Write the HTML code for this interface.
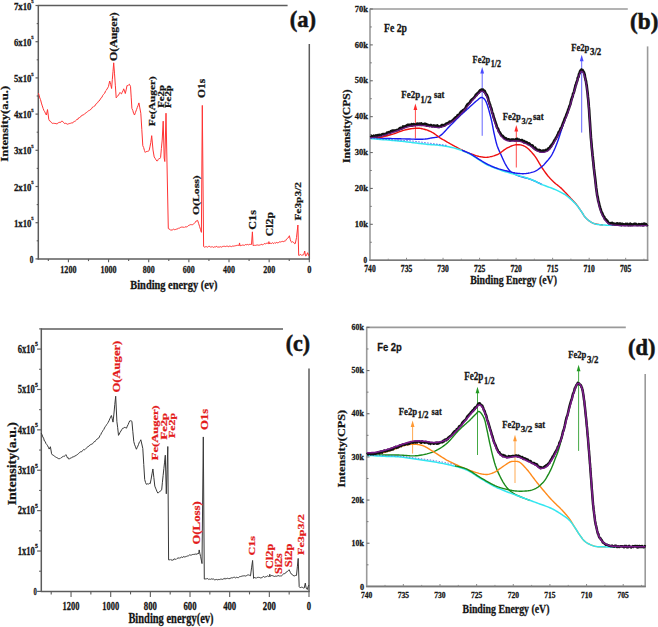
<!DOCTYPE html>
<html><head><meta charset="utf-8"><title>XPS spectra</title>
<style>
html,body{margin:0;padding:0;background:#fff;}
body{width:658px;height:627px;overflow:hidden;}
svg{display:block;}
</style></head>
<body>
<svg width="658" height="627" viewBox="0 0 658 627">
<rect width="658" height="627" fill="#fff"/>
<line x1="38.3" y1="4.9" x2="38.3" y2="259.5" stroke="#5c5c5c" stroke-width="1.5"/>
<line x1="37.7" y1="258.9" x2="309.9" y2="258.9" stroke="#5c5c5c" stroke-width="1.5"/>
<line x1="38.3" y1="5.5" x2="287.6" y2="5.5" stroke="#5c5c5c" stroke-width="1.5"/>
<line x1="309.3" y1="44" x2="309.3" y2="259.5" stroke="#5c5c5c" stroke-width="1.5"/>
<line x1="35.5" y1="258.9" x2="38.3" y2="258.9" stroke="#5c5c5c" stroke-width="1.2"/>
<line x1="36.7" y1="240.8" x2="38.3" y2="240.8" stroke="#5c5c5c" stroke-width="1.1"/>
<line x1="35.5" y1="222.7" x2="38.3" y2="222.7" stroke="#5c5c5c" stroke-width="1.2"/>
<line x1="36.7" y1="204.6" x2="38.3" y2="204.6" stroke="#5c5c5c" stroke-width="1.1"/>
<line x1="35.5" y1="186.5" x2="38.3" y2="186.5" stroke="#5c5c5c" stroke-width="1.2"/>
<line x1="36.7" y1="168.4" x2="38.3" y2="168.4" stroke="#5c5c5c" stroke-width="1.1"/>
<line x1="35.5" y1="150.3" x2="38.3" y2="150.3" stroke="#5c5c5c" stroke-width="1.2"/>
<line x1="36.7" y1="132.2" x2="38.3" y2="132.2" stroke="#5c5c5c" stroke-width="1.1"/>
<line x1="35.5" y1="114.1" x2="38.3" y2="114.1" stroke="#5c5c5c" stroke-width="1.2"/>
<line x1="36.7" y1="96" x2="38.3" y2="96" stroke="#5c5c5c" stroke-width="1.1"/>
<line x1="35.5" y1="77.9" x2="38.3" y2="77.9" stroke="#5c5c5c" stroke-width="1.2"/>
<line x1="36.7" y1="59.8" x2="38.3" y2="59.8" stroke="#5c5c5c" stroke-width="1.1"/>
<line x1="35.5" y1="41.7" x2="38.3" y2="41.7" stroke="#5c5c5c" stroke-width="1.2"/>
<line x1="36.7" y1="23.6" x2="38.3" y2="23.6" stroke="#5c5c5c" stroke-width="1.1"/>
<line x1="35.5" y1="5.5" x2="38.3" y2="5.5" stroke="#5c5c5c" stroke-width="1.2"/>
<line x1="309.3" y1="258.9" x2="309.3" y2="262.3" stroke="#5c5c5c" stroke-width="1.1"/>
<line x1="289.23" y1="258.9" x2="289.23" y2="261.1" stroke="#5c5c5c" stroke-width="1.1"/>
<line x1="269.15" y1="258.9" x2="269.15" y2="262.3" stroke="#5c5c5c" stroke-width="1.1"/>
<line x1="249.08" y1="258.9" x2="249.08" y2="261.1" stroke="#5c5c5c" stroke-width="1.1"/>
<line x1="229" y1="258.9" x2="229" y2="262.3" stroke="#5c5c5c" stroke-width="1.1"/>
<line x1="208.93" y1="258.9" x2="208.93" y2="261.1" stroke="#5c5c5c" stroke-width="1.1"/>
<line x1="188.86" y1="258.9" x2="188.86" y2="262.3" stroke="#5c5c5c" stroke-width="1.1"/>
<line x1="168.78" y1="258.9" x2="168.78" y2="261.1" stroke="#5c5c5c" stroke-width="1.1"/>
<line x1="148.71" y1="258.9" x2="148.71" y2="262.3" stroke="#5c5c5c" stroke-width="1.1"/>
<line x1="128.63" y1="258.9" x2="128.63" y2="261.1" stroke="#5c5c5c" stroke-width="1.1"/>
<line x1="108.56" y1="258.9" x2="108.56" y2="262.3" stroke="#5c5c5c" stroke-width="1.1"/>
<line x1="88.49" y1="258.9" x2="88.49" y2="261.1" stroke="#5c5c5c" stroke-width="1.1"/>
<line x1="68.41" y1="258.9" x2="68.41" y2="262.3" stroke="#5c5c5c" stroke-width="1.1"/>
<line x1="48.34" y1="258.9" x2="48.34" y2="261.1" stroke="#5c5c5c" stroke-width="1.1"/>
<line x1="370" y1="8.4" x2="370" y2="260.8" stroke="#9a9a9a" stroke-width="1.6"/>
<line x1="369.4" y1="260.2" x2="648.2" y2="260.2" stroke="#9a9a9a" stroke-width="1.6"/>
<line x1="370" y1="9" x2="627.8" y2="9" stroke="#9a9a9a" stroke-width="1.6"/>
<line x1="647.6" y1="46.4" x2="647.6" y2="260.8" stroke="#9a9a9a" stroke-width="1.6"/>
<line x1="369.4" y1="260.2" x2="648.2" y2="260.2" stroke="#7a7a7a" stroke-width="1.5"/>
<line x1="370" y1="224.31" x2="372.8" y2="224.31" stroke="#6a6a6a" stroke-width="1.1"/>
<line x1="370" y1="188.43" x2="372.8" y2="188.43" stroke="#6a6a6a" stroke-width="1.1"/>
<line x1="370" y1="152.54" x2="372.8" y2="152.54" stroke="#6a6a6a" stroke-width="1.1"/>
<line x1="370" y1="116.66" x2="372.8" y2="116.66" stroke="#6a6a6a" stroke-width="1.1"/>
<line x1="370" y1="80.77" x2="372.8" y2="80.77" stroke="#6a6a6a" stroke-width="1.1"/>
<line x1="370" y1="44.89" x2="372.8" y2="44.89" stroke="#6a6a6a" stroke-width="1.1"/>
<line x1="370" y1="9" x2="372.8" y2="9" stroke="#6a6a6a" stroke-width="1.1"/>
<line x1="370" y1="242.26" x2="371.8" y2="242.26" stroke="#7a7a7a" stroke-width="1"/>
<line x1="370" y1="206.37" x2="371.8" y2="206.37" stroke="#7a7a7a" stroke-width="1"/>
<line x1="370" y1="170.49" x2="371.8" y2="170.49" stroke="#7a7a7a" stroke-width="1"/>
<line x1="370" y1="134.6" x2="371.8" y2="134.6" stroke="#7a7a7a" stroke-width="1"/>
<line x1="370" y1="98.71" x2="371.8" y2="98.71" stroke="#7a7a7a" stroke-width="1"/>
<line x1="370" y1="62.83" x2="371.8" y2="62.83" stroke="#7a7a7a" stroke-width="1"/>
<line x1="370" y1="26.94" x2="371.8" y2="26.94" stroke="#7a7a7a" stroke-width="1"/>
<line x1="388.26" y1="260.2" x2="388.26" y2="258.7" stroke="#8a8a8a" stroke-width="1"/>
<line x1="406.53" y1="260.2" x2="406.53" y2="257.8" stroke="#8a8a8a" stroke-width="1"/>
<line x1="424.79" y1="260.2" x2="424.79" y2="258.7" stroke="#8a8a8a" stroke-width="1"/>
<line x1="443.05" y1="260.2" x2="443.05" y2="257.8" stroke="#8a8a8a" stroke-width="1"/>
<line x1="461.32" y1="260.2" x2="461.32" y2="258.7" stroke="#8a8a8a" stroke-width="1"/>
<line x1="479.58" y1="260.2" x2="479.58" y2="257.8" stroke="#8a8a8a" stroke-width="1"/>
<line x1="497.84" y1="260.2" x2="497.84" y2="258.7" stroke="#8a8a8a" stroke-width="1"/>
<line x1="516.11" y1="260.2" x2="516.11" y2="257.8" stroke="#8a8a8a" stroke-width="1"/>
<line x1="534.37" y1="260.2" x2="534.37" y2="258.7" stroke="#8a8a8a" stroke-width="1"/>
<line x1="552.63" y1="260.2" x2="552.63" y2="257.8" stroke="#8a8a8a" stroke-width="1"/>
<line x1="570.89" y1="260.2" x2="570.89" y2="258.7" stroke="#8a8a8a" stroke-width="1"/>
<line x1="589.16" y1="260.2" x2="589.16" y2="257.8" stroke="#8a8a8a" stroke-width="1"/>
<line x1="607.42" y1="260.2" x2="607.42" y2="258.7" stroke="#8a8a8a" stroke-width="1"/>
<line x1="625.68" y1="260.2" x2="625.68" y2="257.8" stroke="#8a8a8a" stroke-width="1"/>
<line x1="643.95" y1="260.2" x2="643.95" y2="258.7" stroke="#8a8a8a" stroke-width="1"/>
<line x1="41.3" y1="328.3" x2="41.3" y2="592" stroke="#5c5c5c" stroke-width="1.5"/>
<line x1="40.7" y1="591.4" x2="309.6" y2="591.4" stroke="#5c5c5c" stroke-width="1.5"/>
<line x1="41.3" y1="328.9" x2="283" y2="328.9" stroke="#5c5c5c" stroke-width="1.5"/>
<line x1="309" y1="368.4" x2="309" y2="592" stroke="#5c5c5c" stroke-width="1.5"/>
<line x1="37.1" y1="591.4" x2="41.3" y2="591.4" stroke="#5c5c5c" stroke-width="1.2"/>
<line x1="39.1" y1="571.21" x2="41.3" y2="571.21" stroke="#5c5c5c" stroke-width="1.1"/>
<line x1="37.1" y1="551.02" x2="41.3" y2="551.02" stroke="#5c5c5c" stroke-width="1.2"/>
<line x1="39.1" y1="530.82" x2="41.3" y2="530.82" stroke="#5c5c5c" stroke-width="1.1"/>
<line x1="37.1" y1="510.63" x2="41.3" y2="510.63" stroke="#5c5c5c" stroke-width="1.2"/>
<line x1="39.1" y1="490.44" x2="41.3" y2="490.44" stroke="#5c5c5c" stroke-width="1.1"/>
<line x1="37.1" y1="470.25" x2="41.3" y2="470.25" stroke="#5c5c5c" stroke-width="1.2"/>
<line x1="39.1" y1="450.05" x2="41.3" y2="450.05" stroke="#5c5c5c" stroke-width="1.1"/>
<line x1="37.1" y1="429.86" x2="41.3" y2="429.86" stroke="#5c5c5c" stroke-width="1.2"/>
<line x1="39.1" y1="409.67" x2="41.3" y2="409.67" stroke="#5c5c5c" stroke-width="1.1"/>
<line x1="37.1" y1="389.48" x2="41.3" y2="389.48" stroke="#5c5c5c" stroke-width="1.2"/>
<line x1="39.1" y1="369.28" x2="41.3" y2="369.28" stroke="#5c5c5c" stroke-width="1.1"/>
<line x1="37.1" y1="349.09" x2="41.3" y2="349.09" stroke="#5c5c5c" stroke-width="1.2"/>
<line x1="39.1" y1="328.9" x2="41.3" y2="328.9" stroke="#5c5c5c" stroke-width="1.1"/>
<line x1="309" y1="591.4" x2="309" y2="597" stroke="#5c5c5c" stroke-width="1.1"/>
<line x1="289.17" y1="591.4" x2="289.17" y2="594.4" stroke="#5c5c5c" stroke-width="1.1"/>
<line x1="269.34" y1="591.4" x2="269.34" y2="597" stroke="#5c5c5c" stroke-width="1.1"/>
<line x1="249.51" y1="591.4" x2="249.51" y2="594.4" stroke="#5c5c5c" stroke-width="1.1"/>
<line x1="229.68" y1="591.4" x2="229.68" y2="597" stroke="#5c5c5c" stroke-width="1.1"/>
<line x1="209.85" y1="591.4" x2="209.85" y2="594.4" stroke="#5c5c5c" stroke-width="1.1"/>
<line x1="190.02" y1="591.4" x2="190.02" y2="597" stroke="#5c5c5c" stroke-width="1.1"/>
<line x1="170.19" y1="591.4" x2="170.19" y2="594.4" stroke="#5c5c5c" stroke-width="1.1"/>
<line x1="150.36" y1="591.4" x2="150.36" y2="597" stroke="#5c5c5c" stroke-width="1.1"/>
<line x1="130.53" y1="591.4" x2="130.53" y2="594.4" stroke="#5c5c5c" stroke-width="1.1"/>
<line x1="110.7" y1="591.4" x2="110.7" y2="597" stroke="#5c5c5c" stroke-width="1.1"/>
<line x1="90.87" y1="591.4" x2="90.87" y2="594.4" stroke="#5c5c5c" stroke-width="1.1"/>
<line x1="71.04" y1="591.4" x2="71.04" y2="597" stroke="#5c5c5c" stroke-width="1.1"/>
<line x1="51.21" y1="591.4" x2="51.21" y2="594.4" stroke="#5c5c5c" stroke-width="1.1"/>
<line x1="366.7" y1="326.8" x2="366.7" y2="587" stroke="#9a9a9a" stroke-width="1.6"/>
<line x1="366.1" y1="586.4" x2="645.8" y2="586.4" stroke="#9a9a9a" stroke-width="1.6"/>
<line x1="366.7" y1="327.4" x2="625.8" y2="327.4" stroke="#9a9a9a" stroke-width="1.6"/>
<line x1="645.2" y1="374" x2="645.2" y2="587" stroke="#9a9a9a" stroke-width="1.6"/>
<line x1="366.1" y1="586.4" x2="645.8" y2="586.4" stroke="#7a7a7a" stroke-width="1.5"/>
<line x1="366.7" y1="543.23" x2="369.5" y2="543.23" stroke="#6a6a6a" stroke-width="1.1"/>
<line x1="366.7" y1="500.07" x2="369.5" y2="500.07" stroke="#6a6a6a" stroke-width="1.1"/>
<line x1="366.7" y1="456.9" x2="369.5" y2="456.9" stroke="#6a6a6a" stroke-width="1.1"/>
<line x1="366.7" y1="413.73" x2="369.5" y2="413.73" stroke="#6a6a6a" stroke-width="1.1"/>
<line x1="366.7" y1="370.57" x2="369.5" y2="370.57" stroke="#6a6a6a" stroke-width="1.1"/>
<line x1="366.7" y1="327.4" x2="369.5" y2="327.4" stroke="#6a6a6a" stroke-width="1.1"/>
<line x1="366.7" y1="564.82" x2="368.5" y2="564.82" stroke="#7a7a7a" stroke-width="1"/>
<line x1="366.7" y1="521.65" x2="368.5" y2="521.65" stroke="#7a7a7a" stroke-width="1"/>
<line x1="366.7" y1="478.48" x2="368.5" y2="478.48" stroke="#7a7a7a" stroke-width="1"/>
<line x1="366.7" y1="435.32" x2="368.5" y2="435.32" stroke="#7a7a7a" stroke-width="1"/>
<line x1="366.7" y1="392.15" x2="368.5" y2="392.15" stroke="#7a7a7a" stroke-width="1"/>
<line x1="366.7" y1="348.98" x2="368.5" y2="348.98" stroke="#7a7a7a" stroke-width="1"/>
<line x1="385.02" y1="586.4" x2="385.02" y2="584.9" stroke="#8a8a8a" stroke-width="1"/>
<line x1="403.34" y1="586.4" x2="403.34" y2="584" stroke="#8a8a8a" stroke-width="1"/>
<line x1="421.67" y1="586.4" x2="421.67" y2="584.9" stroke="#8a8a8a" stroke-width="1"/>
<line x1="439.99" y1="586.4" x2="439.99" y2="584" stroke="#8a8a8a" stroke-width="1"/>
<line x1="458.31" y1="586.4" x2="458.31" y2="584.9" stroke="#8a8a8a" stroke-width="1"/>
<line x1="476.63" y1="586.4" x2="476.63" y2="584" stroke="#8a8a8a" stroke-width="1"/>
<line x1="494.96" y1="586.4" x2="494.96" y2="584.9" stroke="#8a8a8a" stroke-width="1"/>
<line x1="513.28" y1="586.4" x2="513.28" y2="584" stroke="#8a8a8a" stroke-width="1"/>
<line x1="531.6" y1="586.4" x2="531.6" y2="584.9" stroke="#8a8a8a" stroke-width="1"/>
<line x1="549.92" y1="586.4" x2="549.92" y2="584" stroke="#8a8a8a" stroke-width="1"/>
<line x1="568.25" y1="586.4" x2="568.25" y2="584.9" stroke="#8a8a8a" stroke-width="1"/>
<line x1="586.57" y1="586.4" x2="586.57" y2="584" stroke="#8a8a8a" stroke-width="1"/>
<line x1="604.89" y1="586.4" x2="604.89" y2="584.9" stroke="#8a8a8a" stroke-width="1"/>
<line x1="623.21" y1="586.4" x2="623.21" y2="584" stroke="#8a8a8a" stroke-width="1"/>
<line x1="641.54" y1="586.4" x2="641.54" y2="584.9" stroke="#8a8a8a" stroke-width="1"/>
<polyline points="38.4,93.21 39.1,95.22 39.8,97.97 40.5,99.53 41.4,103.07 42.3,105.92 43.2,108.61 44,110.71 44.8,111.79 45.6,113.83 46.4,115.03 47.5,109.55 48.8,119.42 49.6,120.93 50.4,121.22 51.2,122.4 51.99,123 52.77,123.51 53.56,123.26 54.34,123.21 55.13,124.01 55.91,123.14 56.7,124.19 57.53,123.24 58.35,122.76 59.17,122.4 60,122.29 60.77,122.38 61.53,121.22 62.3,121.19 63.03,122.05 63.77,122.56 64.5,123.55 65.37,123.29 66.23,123.55 67.1,123.98 67.8,124.3 68.5,123.82 69.2,123.5 69.9,123.59 70.6,123.25 71.3,122.88 72,123.22 72.7,122.92 73.44,121.86 74.18,121.67 74.92,121.07 75.65,120.9 76.39,120.18 77.13,119.14 77.87,119.35 78.61,117.85 79.35,117.63 80.08,117.44 80.82,116.22 81.56,116.04 82.3,114.99 83.03,115.13 83.76,114.68 84.49,113.92 85.22,113.7 85.95,112.53 86.68,112.39 87.42,111.73 88.15,111.16 88.88,110.47 89.61,110.34 90.34,109.9 91.07,108.83 91.8,108.48 92.53,107.1 93.25,107.09 93.98,106.31 94.71,105.97 95.44,105.06 96.16,103.75 96.89,103.15 97.62,102.74 98.35,101.31 99.07,101.08 99.8,100.03 100.51,98.88 101.22,97.71 101.93,97.4 102.64,95.59 103.36,94.62 104.07,93.68 104.78,93.11 105.49,91.14 106.2,90.44 106.97,89.05 107.73,87.92 108.5,86.35 109.7,81 110.65,84.36 111.6,88.51 112.3,79.68 113,71.49 113.7,62.8 114.53,73.85 115.37,85.81 116.2,97.81 116.96,96.79 117.72,96.04 118.48,95.14 119.24,93.76 120,92.45 120.75,93.41 121.5,93.86 122.23,92.27 122.97,90.9 123.7,88.81 124.5,91.02 125.3,93.53 126.15,89.89 127,85.51 127.77,85.71 128.53,84.84 129.3,84.21 130.5,86.33 131.2,97.13 131.9,108.39 132.77,110.4 133.63,113.31 134.5,115.02 135.5,112.27 136.5,109.68 137.3,107.43 138.1,105.42 138.9,102.91 139.85,107.95 140.8,113.22 141.8,129.31 142.8,145.75 143.63,147.51 144.47,150.58 145.3,152.43 146.06,151.65 146.82,151.51 147.58,151.35 148.34,151.11 149.1,150.59 149.95,146.88 150.8,142.54 151.7,135.66 153,149.98 154.2,156.94 155.07,158.23 155.93,159.76 156.8,160.94 157.56,160.8 158.32,159.31 159.08,158.4 159.84,158.66 160.6,157.43 161.4,148.31 162.2,140.05 163.2,121.18 164.2,158.03 164.8,161.53 166,113.2 167,164.02 168.3,228.54 169.13,229.09 169.97,229.3 170.8,230.4 171.51,229.97 172.22,230.08 172.92,229.43 173.63,229.15 174.34,229.63 175.05,229.66 175.75,229.36 176.46,229.14 177.17,229 177.88,228.75 178.58,228.02 179.29,228.18 180,227.84 180.73,227.3 181.45,227.12 182.18,227.21 182.91,227.01 183.64,227.3 184.36,227.41 185.09,226.67 185.82,227.03 186.55,226.9 187.27,226.68 188,225.85 188.72,225.41 189.45,225.12 190.18,224.8 190.9,224.52 191.62,224.7 192.35,224.72 193.08,224.36 193.8,223.68 194.56,223.11 195.32,222.51 196.08,220.96 196.84,220.84 197.6,220.35 198.55,223.26 199.5,226.28 200.45,229.33 201.4,232.35 202.3,105.42 203.6,246.52 204.31,247.04 205.01,247.24 205.72,246.62 206.42,246.63 207.13,247.24 207.83,247.01 208.54,246.41 209.24,246.37 209.95,246.41 210.65,247.25 211.36,247.15 212.06,246.44 212.77,247.2 213.47,247.38 214.18,247.03 214.88,246.7 215.59,246.93 216.29,246.48 217,246.37 217.72,247.38 218.44,247 219.17,246.83 219.89,247.24 220.61,246.66 221.33,247.11 222.06,247.03 222.78,246.32 223.5,246.33 224.22,246.34 224.94,246.25 225.67,246.6 226.39,246.2 227.11,246.34 227.83,245.99 228.56,246.82 229.28,246.17 230,246.25 230.76,246.33 231.52,246.61 232.28,246.01 233.03,246.49 233.79,245.97 234.55,245.94 235.31,245.86 236.07,245.24 236.82,245.63 237.58,245.28 238.34,245.02 239.1,245.83 239.5,242.94 240,245.47 240.77,245.67 241.54,245.4 242.31,245.07 243.08,245.2 243.85,245.16 244.62,245.33 245.39,244.51 246.16,244.93 246.93,244.5 247.7,244.45 248.46,244.86 249.22,244.43 249.98,244.35 250.74,244.43 251.5,244.45 252.4,231.84 253.1,245.62 253.82,245.42 254.54,245.34 255.27,245.45 255.99,245.09 256.71,245.09 257.43,244.94 258.16,245.36 258.88,245.01 259.6,245.11 260.34,245.09 261.08,244.24 261.83,244.47 262.57,244.79 263.31,244.57 264.05,243.7 264.79,243.58 265.53,243.84 266.27,243.33 267.02,243.41 267.76,243.13 268.5,243.69 268.9,241.61 269.5,243.94 270.25,243.02 271,243.54 271.75,243.38 272.5,242.71 273.25,243.42 274,243.41 274.75,242.49 275.5,243.2 276.25,242.49 277,242.49 277.74,242.93 278.47,242.65 279.21,241.8 279.95,241.99 280.68,241.97 281.42,241.67 282.15,241.4 282.89,241.43 283.63,241.76 284.36,240.88 285.1,241.36 285.82,240.38 286.53,239.07 287.25,238.56 287.97,238.04 288.68,237.06 289.4,235.72 290.2,239.28 291,241.62 291.72,242.24 292.43,241.7 293.15,242.29 293.87,242.46 294.58,243.69 295.3,243.55 296.5,237.59 297.9,225.01 298.7,255.35 299.43,255.25 300.16,254.63 300.89,254.51 301.61,255.36 302.34,254.98 303.07,255.12 303.8,254.45 304.7,251.01 305.5,255.91 306.4,255.62 307.6,252.73 309,256" fill="none" stroke="#ff3333" stroke-width="1" stroke-linejoin="round"/>
<polyline points="41.2,433.08 42,434.75 42.8,436.93 43.6,438.14 44.4,440.99 45.2,441.46 46,443.67 46.8,444.55 47.6,445.76 48.4,447.33 49.2,449.07 50.4,446.74 51.6,453.79 52.38,454.87 53.16,455.19 53.94,455.69 54.72,456.39 55.5,456.91 56.3,457.37 57.1,457.79 57.9,458.09 58.7,458.89 59.5,458.67 60.2,458.52 60.9,457.79 61.6,457.59 62.3,456.85 63,456.73 63.73,455.97 64.45,456.26 65.18,455.56 65.9,454.66 66.7,456.22 67.5,457.98 68.3,457.77 69.1,459.25 69.83,458.43 70.57,458.11 71.3,458.09 72.03,457.22 72.77,456.95 73.5,456.76 74.23,456.69 74.97,455.59 75.7,455.74 76.43,455.21 77.17,454.74 77.9,454.1 78.64,453.5 79.38,452.64 80.12,452.19 80.86,451.59 81.6,451.8 82.34,450.73 83.08,450.1 83.82,449.48 84.56,449.78 85.3,449.27 86.04,448.52 86.78,447.56 87.52,446.98 88.26,446.51 89,446.16 89.74,445.21 90.48,444.91 91.22,444.09 91.95,444.25 92.69,443.64 93.43,442.56 94.17,441.61 94.91,441.79 95.65,440.45 96.38,439.89 97.12,438.88 97.86,438.69 98.6,438.17 99.34,436.98 100.08,435.42 100.82,434.54 101.55,432.76 102.29,431.83 103.03,430.41 103.77,429.53 104.51,427.91 105.25,426.67 105.98,425.75 106.72,424.45 107.46,423.62 108.2,422.33 109,420.78 109.8,418.87 110.6,417.14 111.4,415.52 112.2,418.58 113,422.11 113.9,414.07 114.8,404.38 115.7,396.25 116.9,421.66 117.7,427.75 118.5,435.37 119.3,434.03 120.1,432.34 120.9,431.06 121.7,429.74 122.5,428.4 123.3,428.23 124.1,427.6 124.9,427.37 125.7,427.74 126.5,428.16 127.3,426.12 128.1,424.68 128.9,422.68 129.7,420.91 130.43,420.74 131.17,420.85 131.9,421.3 132.85,431.75 133.8,441.67 134.67,444.8 135.53,446.83 136.4,449.24 137.13,447.64 137.87,446.1 138.6,444.29 139.33,442.15 140.07,441.43 140.8,439.77 141.8,444 142.8,448.54 143.75,464.43 144.7,479.52 145.55,482.56 146.4,484.33 147.16,483.89 147.92,483.86 148.68,484.13 149.44,483.32 150.2,483.66 151.1,479.16 152,473.86 152.9,468.97 153.85,477.48 154.8,486.1 155.58,488.12 156.35,489.88 157.12,491.83 157.9,493.14 158.66,492.43 159.42,491.77 160.18,491.53 160.94,490.26 161.7,489.77 162.42,482.22 163.14,475.34 163.86,468.63 164.58,462.13 165.3,455.21 166.3,493.79 167.05,469.82 167.8,446.52 168.6,559.86 169.43,559.86 170.25,559.48 171.07,560.33 171.9,559.57 172.63,560.24 173.36,560 174.08,558.8 174.81,559.1 175.54,559.31 176.27,559.28 176.99,558.52 177.72,558.13 178.45,557.88 179.18,558.5 179.91,557.5 180.63,557.72 181.36,557.05 182.09,557.28 182.82,557.56 183.54,556.47 184.27,557.04 185,556.51 185.72,556.77 186.44,556.41 187.16,555.73 187.88,556.31 188.61,555.7 189.33,555.03 190.05,554.85 190.77,555.23 191.49,555.02 192.21,554.7 192.93,554.37 193.65,554.43 194.37,554.25 195.09,554.66 195.82,553.58 196.54,554.25 197.26,554.19 197.98,553.24 198.7,553.97 199.2,549.93 199.9,553.64 200.6,556.47 201.3,560.06 202,563.58 203.3,436.95 204.3,579.1 205.02,578.86 205.75,578.96 206.47,578.81 207.19,578.58 207.91,578.65 208.64,579.48 209.36,578.89 210.08,579.62 210.8,578.89 211.53,578.92 212.25,579.21 212.97,578.88 213.7,579.1 214.42,579.76 215.14,579.7 215.86,579.63 216.59,579.45 217.31,579.78 218.03,579.83 218.75,579.42 219.48,579.62 220.2,578.9 220.9,579.57 221.6,579.17 222.3,579.42 223,579.21 223.7,578.73 224.4,578.39 225.1,579.27 225.8,578.3 226.5,578.59 227.2,578.37 227.9,578.23 228.6,578.63 229.3,578.8 230,577.93 230.7,578.28 231.4,577.8 232.1,578 232.8,577.73 233.5,577.4 234.2,577.3 234.9,577.27 235.6,577.95 236.3,577.41 237,577.02 237.7,577.69 238.4,577.7 239.1,577.02 239.8,576.59 240.5,576.56 241.24,576.27 241.97,576.36 242.71,575.9 243.45,575.89 244.18,575.73 244.92,575.89 245.65,576.05 246.39,575.72 247.13,575.17 247.86,574.99 248.6,574.93 249.55,575.31 250.5,575.82 251.55,567.87 252.6,560.46 253.6,578.41 254.31,577.45 255.02,577.82 255.73,577.92 256.44,578.14 257.15,577.39 257.86,577.41 258.57,577.34 259.28,577.47 259.99,577.48 260.7,578 261.43,577.76 262.17,577.66 262.9,576.6 263.63,576.49 264.37,577.11 265.1,577.19 265.83,576.6 266.57,576.6 267.3,575.83 268.03,576.13 268.77,576.59 269.5,576.36 269.8,574.29 270.2,576.52 270.92,575.72 271.64,575.56 272.36,575.6 273.08,576 273.8,576.17 274.52,576.45 275.24,576.2 275.96,576.11 276.68,576.23 277.4,575.89 278.12,575.98 278.84,575.41 279.56,576.22 280.28,575.61 281,576.36 281.75,575.57 282.5,574.71 283.25,574.03 284,573.68 284.75,573.61 285.5,573.19 286.25,572.06 287,571.53 287.7,571.29 288.4,570.62 289.1,569.68 290.5,572.7 291.37,574.08 292.23,574.39 293.1,575.68 293.95,575.63 294.8,575.95 295.65,575.38 296.5,575.42 297.35,566.82 298.2,558.41 299.2,586.72 299.93,587.65 300.66,587.51 301.39,587.22 302.11,587.05 302.84,587.71 303.57,588.05 304.3,587.91 305.3,583.13 306.2,588.18 307.3,589.47 308.1,586.7 308.9,585" fill="none" stroke="#383838" stroke-width="1" stroke-linejoin="round"/>
<line x1="415.4" y1="108.9" x2="415.4" y2="138.5" stroke="#ff2a2a" stroke-width="0.85"/>
<path d="M415.4 103.4 L413.5 109.9 L417.3 109.9 Z" fill="#ff2a2a"/>
<line x1="482.2" y1="72.6" x2="482.2" y2="135.8" stroke="#4a4aff" stroke-width="0.85"/>
<path d="M482.2 67.1 L480.3 73.6 L484.1 73.6 Z" fill="#4a4aff"/>
<line x1="581.7" y1="60.3" x2="581.7" y2="132.6" stroke="#4a4aff" stroke-width="0.85"/>
<path d="M581.7 54.8 L579.8 61.3 L583.6 61.3 Z" fill="#4a4aff"/>
<line x1="516.3" y1="130.5" x2="516.3" y2="167.5" stroke="#ff2a2a" stroke-width="0.85"/>
<path d="M516.3 125 L514.4 131.5 L518.2 131.5 Z" fill="#ff2a2a"/>
<line x1="412.6" y1="426" x2="412.6" y2="453.6" stroke="#ff9933" stroke-width="0.85"/>
<path d="M412.6 420.5 L410.7 427 L414.5 427 Z" fill="#ff9933"/>
<line x1="477.5" y1="392.3" x2="477.5" y2="455" stroke="#229922" stroke-width="0.85"/>
<path d="M477.5 386.8 L475.6 393.3 L479.4 393.3 Z" fill="#229922"/>
<line x1="578.6" y1="370.3" x2="578.6" y2="450.9" stroke="#229922" stroke-width="0.85"/>
<path d="M578.6 364.8 L576.7 371.3 L580.5 371.3 Z" fill="#229922"/>
<line x1="515" y1="440.3" x2="515" y2="483" stroke="#ff9933" stroke-width="0.85"/>
<path d="M515 434.8 L513.1 441.3 L516.9 441.3 Z" fill="#ff9933"/>
<polyline points="370.4,138.2 371.75,138.22 373.53,138.26 375.67,138.29 378.05,138.34 380.59,138.38 383.19,138.43 385.75,138.47 388.19,138.52 390.4,138.56 392.3,138.6 393.89,138.63 395.26,138.67 396.48,138.7 397.59,138.73 398.63,138.76 399.65,138.78 400.7,138.81 401.83,138.84 403.08,138.87 404.5,138.9 406.12,138.94 407.91,138.98 409.82,139.04 411.81,139.09 413.83,139.14 415.83,139.19 417.76,139.22 419.58,139.24 421.25,139.23 422.7,139.2 423.94,139.15 425.02,139.07 425.95,138.98 426.78,138.88 427.54,138.76 428.24,138.62 428.93,138.48 429.64,138.33 430.38,138.17 431.2,138 432.06,137.85 432.93,137.74 433.79,137.64 434.66,137.54 435.53,137.42 436.41,137.25 437.29,137.03 438.18,136.72 439.09,136.32 440,135.8 440.93,135.15 441.87,134.37 442.82,133.49 443.79,132.53 444.76,131.51 445.73,130.46 446.7,129.39 447.67,128.32 448.64,127.29 449.6,126.3 450.55,125.34 451.5,124.37 452.45,123.4 453.4,122.43 454.35,121.46 455.3,120.49 456.25,119.52 457.2,118.57 458.15,117.63 459.1,116.7 460.06,115.78 461.04,114.86 462.02,113.95 463.01,113.05 463.99,112.15 464.97,111.27 465.93,110.4 466.88,109.54 467.8,108.71 468.7,107.9 469.58,107.1 470.45,106.29 471.31,105.5 472.15,104.71 472.98,103.95 473.79,103.22 474.56,102.52 475.31,101.86 476.02,101.25 476.7,100.7 477.33,100.18 477.92,99.68 478.46,99.19 478.98,98.75 479.47,98.35 479.94,98.01 480.41,97.75 480.86,97.56 481.33,97.48 481.8,97.5 482.27,97.61 482.74,97.77 483.19,98 483.63,98.31 484.08,98.7 484.51,99.19 484.95,99.78 485.4,100.5 485.84,101.33 486.3,102.3 486.77,103.45 487.25,104.8 487.75,106.32 488.25,107.96 488.74,109.68 489.23,111.46 489.71,113.24 490.17,115 490.6,116.7 491,118.3 491.37,119.83 491.71,121.36 492.02,122.88 492.32,124.39 492.61,125.89 492.88,127.36 493.15,128.81 493.43,130.24 493.71,131.64 494,133 494.3,134.34 494.59,135.65 494.87,136.94 495.16,138.21 495.45,139.45 495.74,140.66 496.04,141.85 496.35,143 496.67,144.12 497,145.2 497.34,146.23 497.7,147.21 498.06,148.14 498.43,149.03 498.81,149.91 499.19,150.77 499.58,151.62 499.98,152.49 500.39,153.38 500.8,154.3 501.22,155.26 501.65,156.25 502.1,157.26 502.54,158.28 503,159.29 503.46,160.3 503.92,161.28 504.38,162.24 504.84,163.14 505.3,164 505.76,164.81 506.21,165.6 506.67,166.37 507.13,167.1 507.59,167.81 508.06,168.48 508.52,169.12 508.98,169.72 509.44,170.28 509.9,170.8 510.36,171.27 510.81,171.68 511.25,172.05 511.7,172.38 512.14,172.68 512.6,172.96 513.05,173.22 513.52,173.48 514,173.73 514.5,174 514.99,174.26 515.45,174.5 515.9,174.72 516.36,174.94 516.84,175.14 517.35,175.35 517.9,175.56 518.52,175.79 519.22,176.03 520,176.3 520.89,176.58 521.88,176.87 522.95,177.16 524.08,177.47 525.26,177.78 526.46,178.11 527.68,178.45 528.88,178.82 530.06,179.2 531.2,179.6 532.36,180.05 533.59,180.57 534.86,181.13 536.14,181.72 537.4,182.31 538.6,182.88 539.71,183.41 540.71,183.89 541.55,184.29 542.2,184.6" fill="none" stroke="#1a1aee" stroke-width="1.4" stroke-linejoin="round"/>
<polyline points="370.4,138 370.97,137.98 371.7,137.96 372.55,137.94 373.5,137.92 374.54,137.89 375.64,137.85 376.78,137.78 377.94,137.69 379.08,137.56 380.2,137.4 381.32,137.2 382.47,136.96 383.66,136.69 384.87,136.39 386.1,136.08 387.34,135.74 388.59,135.39 389.84,135.03 391.08,134.67 392.3,134.3 393.52,133.91 394.74,133.49 395.96,133.05 397.18,132.59 398.4,132.13 399.62,131.67 400.84,131.23 402.06,130.81 403.28,130.43 404.5,130.1 405.73,129.8 406.98,129.52 408.25,129.26 409.52,129.02 410.78,128.81 412.02,128.62 413.24,128.46 414.41,128.34 415.54,128.25 416.6,128.2 417.6,128.19 418.55,128.23 419.45,128.3 420.32,128.41 421.15,128.54 421.96,128.7 422.75,128.88 423.53,129.08 424.31,129.29 425.1,129.5 425.88,129.72 426.63,129.95 427.37,130.2 428.09,130.47 428.81,130.75 429.52,131.05 430.23,131.38 430.94,131.73 431.66,132.1 432.4,132.5 433.15,132.94 433.89,133.42 434.65,133.94 435.4,134.48 436.16,135.04 436.92,135.61 437.68,136.18 438.45,136.74 439.22,137.28 440,137.8 440.79,138.3 441.59,138.79 442.4,139.28 443.21,139.76 444.02,140.23 444.84,140.7 445.65,141.16 446.44,141.61 447.23,142.06 448,142.5 448.75,142.93 449.47,143.34 450.17,143.74 450.87,144.13 451.56,144.51 452.25,144.9 452.95,145.29 453.68,145.68 454.42,146.08 455.2,146.5 456.01,146.94 456.86,147.39 457.72,147.85 458.61,148.33 459.5,148.8 460.4,149.27 461.29,149.73 462.18,150.18 463.05,150.6 463.9,151 464.73,151.38 465.54,151.74 466.35,152.08 467.15,152.41 467.94,152.73 468.73,153.04 469.52,153.34 470.31,153.63 471.1,153.92 471.9,154.2 472.7,154.48 473.5,154.76 474.3,155.04 475.1,155.3 475.91,155.56 476.71,155.81 477.51,156.04 478.31,156.25 479.1,156.44 479.9,156.6 480.68,156.75 481.45,156.89 482.21,157.02 482.97,157.14 483.72,157.23 484.49,157.3 485.28,157.33 486.09,157.33 486.93,157.29 487.8,157.2 488.72,157.07 489.68,156.9 490.67,156.69 491.69,156.45 492.73,156.17 493.76,155.86 494.8,155.52 495.82,155.14 496.83,154.74 497.8,154.3 498.75,153.81 499.68,153.24 500.6,152.62 501.5,151.96 502.41,151.28 503.3,150.6 504.2,149.93 505.09,149.3 505.99,148.72 506.9,148.2 507.81,147.73 508.72,147.27 509.63,146.82 510.54,146.4 511.45,146.01 512.36,145.66 513.27,145.36 514.18,145.11 515.09,144.92 516,144.8 516.91,144.73 517.82,144.7 518.73,144.71 519.64,144.77 520.55,144.89 521.46,145.06 522.37,145.31 523.28,145.62 524.19,146.02 525.1,146.5 526.01,147.07 526.94,147.74 527.86,148.5 528.79,149.32 529.72,150.21 530.64,151.16 531.55,152.15 532.45,153.18 533.33,154.23 534.2,155.3 535.05,156.43 535.9,157.66 536.74,158.97 537.58,160.32 538.39,161.69 539.2,163.06 539.98,164.4 540.75,165.69 541.49,166.89 542.2,168 542.88,169.01 543.53,169.96 544.14,170.85 544.74,171.7 545.32,172.5 545.89,173.27 546.46,174.02 547.03,174.75 547.6,175.48 548.2,176.2 548.8,176.91 549.39,177.58 549.98,178.24 550.58,178.87 551.17,179.48 551.77,180.09 552.38,180.68 553,181.28 553.64,181.89 554.3,182.5 554.98,183.11 555.66,183.69 556.36,184.25 557.08,184.82 557.8,185.38 558.54,185.96 559.28,186.56 560.04,187.2 560.82,187.87 561.6,188.6 562.41,189.39 563.26,190.25 564.14,191.16 565.03,192.11 565.93,193.07 566.82,194.03 567.69,194.99 568.53,195.91 569.34,196.78 570.1,197.6 570.81,198.36 571.49,199.07 572.14,199.75 572.77,200.4 573.38,201.03 573.96,201.65 574.53,202.27 575.1,202.9 575.65,203.54 576.2,204.2 576.74,204.88 577.26,205.56 577.76,206.25 578.25,206.94 578.73,207.63 579.2,208.33 579.68,209.02 580.15,209.72 580.62,210.41 581.1,211.1 581.57,211.8 582.03,212.51 582.47,213.22 582.91,213.94 583.35,214.66 583.8,215.36 584.28,216.05 584.78,216.73 585.32,217.38 585.9,218 586.52,218.6 587.16,219.2 587.83,219.79 588.52,220.37 589.24,220.92 589.98,221.45 590.75,221.94 591.54,222.4 592.36,222.83 593.2,223.2 594.12,223.53 595.16,223.81 596.26,224.05 597.41,224.25 598.56,224.42 599.67,224.57 600.7,224.7 601.63,224.81 602.41,224.91 603,225" fill="none" stroke="#ee1111" stroke-width="1.4" stroke-linejoin="round"/>
<polyline points="370.4,138.6 371.75,138.71 373.53,138.85 375.67,139.03 378.05,139.22 380.59,139.43 383.19,139.64 385.75,139.85 388.19,140.05 390.4,140.24 392.3,140.4 393.91,140.54 395.36,140.67 396.68,140.79 397.88,140.91 399.01,141.02 400.09,141.13 401.15,141.24 402.22,141.35 403.33,141.47 404.5,141.6 405.71,141.74 406.92,141.88 408.13,142.03 409.34,142.18 410.55,142.34 411.76,142.49 412.97,142.65 414.18,142.8 415.39,142.95 416.6,143.1 417.82,143.25 419.05,143.39 420.28,143.54 421.52,143.69 422.76,143.84 423.99,143.98 425.21,144.12 426.42,144.25 427.62,144.38 428.8,144.5 429.94,144.6 431.04,144.68 432.11,144.74 433.16,144.8 434.21,144.86 435.28,144.92 436.38,145 437.52,145.1 438.72,145.23 440,145.4 441.36,145.6 442.78,145.8 444.27,146.03 445.79,146.27 447.35,146.53 448.93,146.82 450.51,147.14 452.1,147.49 453.66,147.88 455.2,148.3 456.72,148.76 458.24,149.24 459.76,149.76 461.28,150.3 462.8,150.88 464.32,151.48 465.84,152.13 467.36,152.81 468.88,153.54 470.4,154.3 471.92,155.14 473.44,156.06 474.96,157.05 476.48,158.08 478,159.14 479.52,160.19 481.04,161.23 482.56,162.22 484.08,163.16 485.6,164 487.12,164.77 488.64,165.49 490.16,166.17 491.68,166.81 493.2,167.42 494.72,168 496.24,168.57 497.76,169.12 499.28,169.66 500.8,170.2 502.32,170.72 503.84,171.22 505.36,171.69 506.88,172.15 508.4,172.59 509.92,173.03 511.44,173.46 512.96,173.9 514.48,174.34 516,174.8 517.54,175.26 519.11,175.73 520.69,176.19 522.28,176.65 523.86,177.12 525.42,177.59 526.95,178.06 528.43,178.53 529.85,179.01 531.2,179.5 532.47,180 533.65,180.5 534.77,181.02 535.85,181.54 536.89,182.06 537.92,182.58 538.95,183.09 540,183.61 541.07,184.11 542.2,184.6 543.38,185.08 544.59,185.55 545.82,186.01 547.08,186.47 548.33,186.92 549.58,187.37 550.81,187.82 552.02,188.28 553.18,188.73 554.3,189.2 555.38,189.67 556.45,190.15 557.5,190.63 558.53,191.12 559.52,191.6 560.49,192.08 561.43,192.57 562.33,193.05 563.19,193.53 564,194 564.76,194.46 565.45,194.91 566.09,195.35 566.7,195.79 567.28,196.22 567.83,196.67 568.38,197.12 568.94,197.59 569.51,198.08 570.1,198.6 570.72,199.14 571.34,199.7 571.97,200.28 572.6,200.88 573.23,201.48 573.85,202.1 574.46,202.72 575.06,203.35 575.64,203.97 576.2,204.6 576.74,205.23 577.26,205.86 577.76,206.5 578.25,207.14 578.73,207.79 579.2,208.45 579.68,209.1 580.15,209.77 580.62,210.43 581.1,211.1 581.57,211.78 582.03,212.48 582.47,213.19 582.91,213.91 583.35,214.63 583.8,215.34 584.28,216.04 584.78,216.72 585.32,217.38 585.9,218 586.52,218.6 587.16,219.2 587.83,219.79 588.52,220.37 589.24,220.92 589.98,221.45 590.75,221.94 591.54,222.4 592.36,222.83 593.2,223.2 594.04,223.52 594.86,223.8 595.68,224.03 596.52,224.23 597.4,224.4 598.33,224.54 599.34,224.67 600.44,224.78 601.66,224.89 603,225 604.58,225.1 606.44,225.18 608.49,225.24 610.66,225.28 612.86,225.31 615.01,225.34 617.04,225.35 618.84,225.37 620.36,225.38 621.5,225.4" fill="none" stroke="#33e6f0" stroke-width="1.5" stroke-linejoin="round"/>
<polyline points="370.4,138.3 410.6,140.8 447,145.4" fill="none" stroke="#3344ee" stroke-width="0.8" stroke-linejoin="round" stroke-dasharray="1.5 1.5"/>
<polyline points="462,150.2 462.5,150.41 463.13,150.67 463.88,150.98 464.72,151.32 465.63,151.69 466.59,152.1 467.56,152.53 468.54,152.97 469.49,153.43 470.4,153.9 471.28,154.39 472.18,154.92 473.08,155.48 473.99,156.06 474.91,156.66 475.83,157.26 476.75,157.86 477.67,158.46 478.59,159.04 479.5,159.6 480.41,160.15 481.32,160.69 482.23,161.24 483.14,161.78 484.04,162.32 484.95,162.84 485.86,163.36 486.77,163.86 487.69,164.34 488.6,164.8 489.52,165.24 490.44,165.67 491.36,166.09 492.28,166.49 493.2,166.88 494.12,167.25 495.04,167.61 495.96,167.95 496.88,168.28 497.8,168.6 498.71,168.9 499.63,169.17 500.54,169.43 501.45,169.68 502.36,169.91 503.26,170.13 504.17,170.35 505.08,170.56 505.99,170.78 506.9,171 507.81,171.23 508.72,171.46 509.63,171.7 510.54,171.94 511.45,172.17 512.36,172.39 513.27,172.6 514.18,172.79 515.09,172.96 516,173.1 516.91,173.23 517.82,173.34 518.73,173.45 519.64,173.54 520.55,173.61 521.46,173.66 522.37,173.68 523.28,173.69 524.19,173.66 525.1,173.6 526.02,173.51 526.97,173.39 527.93,173.24 528.89,173.06 529.84,172.86 530.78,172.64 531.7,172.4 532.58,172.15 533.42,171.88 534.2,171.6 534.93,171.3 535.62,170.98 536.27,170.64 536.88,170.28 537.47,169.9 538.04,169.51 538.59,169.11 539.13,168.71 539.66,168.31 540.2,167.9 540.72,167.51 541.2,167.13 541.67,166.77 542.11,166.4 542.55,166.01 542.99,165.6 543.45,165.16 543.93,164.67 544.44,164.12 545,163.5 545.61,162.82 546.26,162.09 546.94,161.31 547.65,160.48 548.37,159.62 549.09,158.72 549.81,157.78 550.5,156.81 551.17,155.82 551.8,154.8 552.39,153.75 552.96,152.66 553.52,151.54 554.05,150.39 554.57,149.2 555.09,147.99 555.59,146.75 556.1,145.48 556.6,144.2 557.1,142.9 557.6,141.56 558.11,140.16 558.61,138.72 559.1,137.25 559.59,135.76 560.07,134.28 560.54,132.8 561.01,131.36 561.46,129.95 561.9,128.6 562.34,127.25 562.8,125.85 563.26,124.43 563.71,123.02 564.15,121.66 564.56,120.36 564.94,119.17 565.28,118.11 565.57,117.21 565.8,116.5" fill="none" stroke="#1a1aee" stroke-width="1.4" stroke-linejoin="round"/>
<polyline points="370.4,135.8 370.98,136.19 371.73,136.23 372.62,136.53 373.62,135.7 374.16,136.54 374.69,136.4 375.26,135.98 375.82,135.46 376.39,136.54 376.96,135.47 377.52,136.15 378.09,135.19 378.63,135.08 379.18,135.8 379.69,134.99 380.2,135.88 381.17,134.97 382.15,134.25 383.12,134.03 384.09,134.03 385.06,134.09 386.02,134.2 386.99,132.67 387.96,132.71 388.93,132.1 389.9,132.91 390.88,131.32 391.86,130.84 392.85,130.49 393.84,130.62 394.82,131 395.81,130.61 396.78,130.01 397.74,130.04 398.68,129.59 399.6,128.34 400.5,127.79 401.38,128.57 402.24,127.94 403.09,126.53 403.93,127.15 404.76,126.4 405.59,126.09 406.42,125.74 407.26,125.23 408.1,124.75 408.96,124.97 409.84,124.9 410.73,125.65 411.62,124.26 412.5,125.4 413.37,124.16 414.23,124.3 415.05,124.92 415.85,124.85 416.6,124.2 417.3,123.57 417.94,124.16 418.53,123.98 419.1,124.79 419.65,123.69 420.2,123.95 420.77,124.77 421.36,123.5 422,124.11 422.7,124.77 423.45,124.77 424.24,123.78 425.06,123.89 425.91,124.07 426.78,125.49 427.66,124.64 428.55,125.52 429.44,125.88 430.33,125.16 431.2,125.16 432.07,126.29 432.95,125.89 433.84,125.48 434.74,126.29 435.63,125.79 436.52,125.82 437.41,125.47 438.29,126.61 439.15,126.82 440,126.3 440.83,126.62 441.65,125.04 442.46,125.12 443.26,125.21 444.05,125.62 444.84,125.28 445.63,124.06 446.41,123.47 447.2,123.32 448,122.99 448.8,123.19 449.6,121.6 450.4,122.03 451.2,121.41 452.01,120.99 452.81,120.34 453.61,119.5 454.41,118.46 455.2,117.8 456,117.19 456.79,117.13 457.58,115.35 458.37,114.77 459.16,114.83 459.95,113.27 460.74,112.18 461.53,111.29 462.32,111.22 463.11,110.01 463.9,110.12 464.7,109.07 465.52,108.27 466.34,106.21 467.17,104.93 467.99,103.94 468.81,103.53 469.61,102.86 470.4,101.51 471.16,100.27 471.9,99.68 472.62,99.15 473.32,98.41 474.01,97.72 474.69,97.09 475.35,96.07 475.99,94.54 476.61,94.95 477.2,93.5 477.76,93.32 478.3,92.51 478.8,92.57 479.25,91.3 479.68,90.94 480.07,90.54 480.45,90.06 480.82,90.87 481.18,90.19 481.54,89.67 481.91,89.71 482.3,90.64 482.7,90.02 483.09,89.77 483.48,90.87 483.87,90.93 484.26,91.82 484.65,90.94 485.05,92.05 485.46,93.2 485.87,93.97 486.3,94.92 486.74,94.58 487.19,96.07 487.66,97.03 488.12,98.46 488.6,101.03 489.08,101.91 489.56,103.92 490.04,104.6 490.52,106.86 491,107.72 491.48,108.96 491.95,111.35 492.43,113.26 492.91,113.7 493.39,116.14 493.88,117.87 494.36,118.92 494.84,120.73 495.32,121.88 495.8,123.36 496.27,124.72 496.73,126.45 497.19,127.69 497.64,128.13 498.1,128.89 498.56,130.35 499.04,131.82 499.54,131.98 500.06,133.02 500.6,133.66 501.17,135.3 501.75,135.63 502.35,135.56 502.97,136.22 503.6,137.22 504.25,137.96 504.91,138.54 505.59,138.13 506.29,138.59 507,139.69 507.75,139.5 508.55,139.45 509.38,139.57 510.23,140.55 511.09,139.57 511.94,139.91 512.77,139.55 513.57,139.59 514.31,140.23 515,140.44 515.6,139.51 516.11,139.26 516.56,140.03 516.98,139.22 517.38,138.91 517.78,140.26 518.23,139.58 518.73,140.25 519.31,139.76 520,140.67 520.81,140.31 521.74,140.2 522.24,140.17 522.75,141.16 523.28,141.51 523.81,142.13 524.36,141.13 524.91,142.16 525.47,142.02 526.02,142.46 526.56,142.17 527.11,142.63 527.63,143.23 528.15,144.08 529.12,143.35 530,144.39 530.79,145.33 531.51,146.07 532.18,145.44 532.82,145.86 533.43,147.61 534.01,148.18 534.59,147.93 535.18,147.75 535.78,149.47 536.4,149.03 537.04,150.13 537.68,150.02 538.32,150.61 538.96,149.88 539.61,151.05 540.25,150.39 540.89,150.82 541.53,151.58 542.16,151.6 542.8,150.62 543.43,150.62 544.06,150.81 544.69,150.87 545.32,150.51 545.95,149.9 546.58,149.82 547.21,150.2 547.84,150.05 548.47,148.28 549.1,148.49 549.74,148.12 550.37,146.28 551.01,146.63 551.65,144.63 552.29,144.37 552.94,143.27 553.58,142.32 554.22,140.74 554.86,139.8 555.5,138.92 556.14,137.56 556.78,136.75 557.42,135.24 558.06,134.01 558.7,132.14 559.34,131.74 559.98,130.23 560.62,128.5 561.26,127.91 561.9,126.52 562.55,124.57 563.21,122.63 563.87,121.5 564.54,119.34 565.2,117.74 565.86,116.55 566.5,114.38 567.12,113.26 567.72,111.73 568.3,109.41 568.85,108.71 569.36,106.29 569.86,105.68 570.34,104.15 570.81,102.17 571.26,99.89 571.72,98.98 572.17,97.2 572.63,96.47 573.1,93.65 573.58,93.1 574.06,91.62 574.55,89.51 575.04,87.9 575.52,85.25 576,84.76 576.47,82.41 576.93,81.58 577.38,80.1 577.8,77.7 578.2,77.44 578.59,76.49 578.96,74.08 579.32,73.47 579.67,73.13 580.01,71.4 580.35,71.8 580.7,70.32 581.04,70.76 581.4,69.57 581.76,70.09 582.13,70.84 582.49,70.04 582.86,70.53 583.23,71.45 583.59,71.88 583.95,72.33 584.31,73.57 584.66,74.73 585,77.25 585.34,78.38 585.67,80.35 586,81.05 586.32,83.92 586.64,85.03 586.95,87.94 587.27,90.57 587.58,92.83 587.89,96.47 588.2,99.08 588.51,102.57 588.82,106.9 589.12,109.93 589.43,115.69 589.73,119.7 590.03,123.92 590.33,129.03 590.62,132.55 590.91,137.68 591.2,140.72 591.48,143.69 591.75,147.34 592.01,149.71 592.27,151.99 592.53,155.42 592.79,156.87 593.06,160.5 593.33,162.14 593.61,165.26 593.9,168.43 594.2,170.59 594.51,173.56 594.82,175.92 595.14,178.35 595.47,181.28 595.8,184.28 596.14,187.72 596.49,190.06 596.84,192.64 597.2,195.49 597.56,196.44 597.91,198.52 598.26,200.97 598.62,201.71 598.98,203.27 599.36,205.31 599.77,206.39 600.21,208.16 600.68,209.33 601.2,211.23 601.75,212.58 602.33,213.32 602.93,215.22 603.56,216.23 604.23,216.88 604.92,219.18 605.64,219.16 606.39,219.94 607.18,220.68 608,222.21 608.86,223.13 609.77,223.43 610.71,223.18 611.69,223.2 612.19,222.9 612.69,223.92 613.21,223.85 613.72,223.58 614.25,224.06 614.77,223.79 615.31,224.56 615.84,224.28 616.38,223.59 616.92,224.6 617.46,223.37 618,224.15 618.54,224.01 619.07,223.82 619.6,223.59 620.13,224.72 620.66,223.6 621.19,224.44 621.73,225.04 622.26,223.87 622.81,223.97 623.36,224.6 623.93,224.46 624.5,224.67 625.09,224.93 625.69,223.98 626.32,224.19 626.94,224.18 627.61,223.81 628.28,225.07 628.99,224.92 629.7,224.82 630.24,223.76 630.78,225.02 631.31,224.88 631.93,224.46 632.54,224.87 633.15,224.44 633.82,224.1 634.49,223.91 635.15,224.1 635.67,223.81 636.19,224.25 636.71,224.87 637.24,224.78 637.76,225.01 638.28,224.8 638.81,224.13 639.33,224.56 639.84,224.37 640.35,224.9 640.86,224.5 641.37,224.1 642,224.66 642.64,225.14 643.28,224.01 643.84,225 644.41,223.7 644.98,224.06 645.7,224.02 646.41,224.77 646.96,225.07 647.5,224.4" fill="none" stroke="#111" stroke-width="2.7" stroke-linejoin="round"/>
<polyline points="370.4,137.8 370.98,137.73 371.73,137.65 372.62,137.56 373.62,137.46 374.69,137.34 375.82,137.2 376.96,137.06 378.09,136.89 379.18,136.7 380.2,136.5 381.17,136.27 382.15,136.02 383.12,135.74 384.09,135.45 385.06,135.14 386.02,134.82 386.99,134.5 387.96,134.17 388.93,133.83 389.9,133.5 390.88,133.16 391.86,132.81 392.85,132.45 393.84,132.08 394.82,131.71 395.81,131.33 396.78,130.96 397.74,130.6 398.68,130.24 399.6,129.9 400.5,129.56 401.38,129.22 402.24,128.87 403.09,128.53 403.93,128.2 404.76,127.88 405.59,127.57 406.42,127.29 407.26,127.03 408.1,126.8 408.96,126.6 409.84,126.42 410.73,126.26 411.62,126.13 412.5,126.01 413.37,125.9 414.23,125.81 415.05,125.73 415.85,125.66 416.6,125.6 417.3,125.55 417.94,125.5 418.53,125.47 419.1,125.46 419.65,125.45 420.2,125.46 420.77,125.47 421.36,125.5 422,125.55 422.7,125.6 423.45,125.67 424.24,125.77 425.06,125.89 425.91,126.02 426.78,126.16 427.66,126.31 428.55,126.45 429.44,126.58 430.33,126.7 431.2,126.8 432.07,126.9 432.95,127.02 433.84,127.14 434.74,127.26 435.63,127.37 436.52,127.46 437.41,127.51 438.29,127.53 439.15,127.49 440,127.4 440.83,127.25 441.65,127.06 442.46,126.82 443.26,126.55 444.05,126.24 444.84,125.9 445.63,125.53 446.41,125.14 447.2,124.73 448,124.3 448.8,123.85 449.6,123.38 450.4,122.88 451.2,122.36 452.01,121.81 452.81,121.23 453.61,120.64 454.41,120.01 455.2,119.37 456,118.7 456.79,118 457.58,117.28 458.37,116.53 459.16,115.75 459.95,114.95 460.74,114.13 461.53,113.29 462.32,112.44 463.11,111.58 463.9,110.7 464.7,109.79 465.52,108.84 466.34,107.86 467.17,106.86 467.99,105.84 468.81,104.84 469.61,103.85 470.4,102.89 471.16,101.97 471.9,101.1 472.62,100.27 473.32,99.45 474.01,98.65 474.69,97.87 475.35,97.13 475.99,96.41 476.61,95.74 477.2,95.1 477.76,94.52 478.3,94 478.8,93.51 479.25,93.05 479.68,92.62 480.07,92.22 480.45,91.88 480.82,91.6 481.18,91.38 481.54,91.23 481.91,91.17 482.3,91.2 482.7,91.31 483.09,91.47 483.48,91.7 483.87,92 484.26,92.38 484.65,92.84 485.05,93.38 485.46,94.02 485.87,94.76 486.3,95.6 486.74,96.57 487.19,97.68 487.66,98.9 488.12,100.22 488.6,101.63 489.08,103.08 489.56,104.58 490.04,106.09 490.52,107.61 491,109.1 491.48,110.62 491.95,112.23 492.43,113.9 492.91,115.59 493.39,117.3 493.88,118.99 494.36,120.64 494.84,122.22 495.32,123.72 495.8,125.1 496.27,126.38 496.73,127.6 497.19,128.77 497.64,129.87 498.1,130.92 498.56,131.91 499.04,132.86 499.54,133.75 500.06,134.6 500.6,135.4 501.17,136.16 501.75,136.86 502.35,137.52 502.97,138.12 503.6,138.68 504.25,139.18 504.91,139.64 505.59,140.04 506.29,140.4 507,140.7 507.75,140.93 508.55,141.08 509.38,141.15 510.23,141.18 511.09,141.16 511.94,141.11 512.77,141.06 513.57,141.01 514.31,140.99 515,141 515.6,141.02 516.11,141.01 516.56,140.99 516.98,140.97 517.38,140.95 517.78,140.95 518.23,140.99 518.73,141.07 519.31,141.2 520,141.4 520.81,141.67 521.74,142 522.75,142.39 523.81,142.82 524.91,143.28 526.02,143.76 527.11,144.25 528.15,144.75 529.12,145.23 530,145.7 530.79,146.17 531.51,146.67 532.18,147.19 532.82,147.72 533.43,148.25 534.01,148.76 534.59,149.26 535.18,149.72 535.78,150.14 536.4,150.5 537.04,150.83 537.68,151.14 538.32,151.43 538.96,151.69 539.61,151.92 540.25,152.11 540.89,152.26 541.53,152.36 542.16,152.41 542.8,152.4 543.43,152.35 544.06,152.26 544.69,152.15 545.32,151.98 545.95,151.77 546.58,151.5 547.21,151.16 547.84,150.76 548.47,150.27 549.1,149.7 549.74,149.03 550.37,148.27 551.01,147.42 551.65,146.51 552.29,145.53 552.94,144.49 553.58,143.43 554.22,142.33 554.86,141.22 555.5,140.1 556.14,138.97 556.78,137.81 557.42,136.62 558.06,135.4 558.7,134.15 559.34,132.87 559.98,131.55 560.62,130.2 561.26,128.82 561.9,127.4 562.55,125.93 563.21,124.41 563.87,122.84 564.54,121.23 565.2,119.6 565.86,117.95 566.5,116.3 567.12,114.65 567.72,113.01 568.3,111.4 568.85,109.81 569.36,108.22 569.86,106.63 570.34,105.04 570.81,103.45 571.26,101.86 571.72,100.27 572.17,98.68 572.63,97.09 573.1,95.5 573.58,93.87 574.06,92.18 574.55,90.46 575.04,88.73 575.52,87.01 576,85.34 576.47,83.72 576.93,82.2 577.38,80.78 577.8,79.5 578.2,78.3 578.59,77.14 578.96,76.03 579.32,74.99 579.67,74.04 580.01,73.21 580.35,72.51 580.7,71.96 581.04,71.58 581.4,71.4 581.76,71.39 582.13,71.51 582.49,71.78 582.86,72.19 583.23,72.74 583.59,73.45 583.95,74.32 584.31,75.35 584.66,76.54 585,77.9 585.34,79.41 585.67,81.06 586,82.85 586.32,84.79 586.64,86.91 586.95,89.19 587.27,91.67 587.58,94.34 587.89,97.21 588.2,100.3 588.51,103.75 588.82,107.62 589.12,111.83 589.43,116.25 589.73,120.81 590.03,125.38 590.33,129.88 590.62,134.2 590.91,138.24 591.2,141.9 591.48,145.2 591.75,148.25 592.01,151.09 592.27,153.78 592.53,156.35 592.79,158.85 593.06,161.32 593.33,163.81 593.61,166.35 593.9,169 594.2,171.77 594.51,174.61 594.82,177.5 595.14,180.4 595.47,183.28 595.8,186.11 596.14,188.85 596.49,191.46 596.84,193.93 597.2,196.2 597.56,198.29 597.91,200.23 598.26,202.04 598.62,203.73 598.98,205.32 599.36,206.83 599.77,208.28 600.21,209.68 600.68,211.04 601.2,212.4 601.75,213.74 602.33,215.06 602.93,216.34 603.56,217.56 604.23,218.73 604.92,219.83 605.64,220.84 606.39,221.77 607.18,222.59 608,223.3 608.86,223.87 609.77,224.31 610.71,224.63 611.69,224.86 612.69,225.01 613.72,225.1 614.77,225.17 615.84,225.23 616.92,225.3 618,225.4 619.07,225.51 620.13,225.6 621.19,225.66 622.26,225.71 623.36,225.74 624.5,225.76 625.69,225.77 626.94,225.78 628.28,225.79 629.7,225.8 631.31,225.81 633.15,225.81 635.15,225.8 637.24,225.79 639.33,225.78 641.37,225.76 643.28,225.74 644.98,225.72 646.41,225.71 647.5,225.7" fill="none" stroke="#6a1a80" stroke-width="1.3" stroke-linejoin="round"/>
<polyline points="367,454.7 368.31,454.72 370.05,454.74 372.13,454.77 374.45,454.81 376.92,454.84 379.45,454.88 381.94,454.92 384.31,454.95 386.46,454.98 388.3,455 389.84,455.02 391.17,455.02 392.36,455.03 393.43,455.03 394.44,455.03 395.42,455.03 396.42,455.04 397.49,455.05 398.67,455.07 400,455.1 401.47,455.16 403.02,455.26 404.64,455.39 406.32,455.52 408.04,455.66 409.78,455.77 411.53,455.84 413.28,455.87 415.01,455.82 416.7,455.7 418.38,455.51 420.09,455.26 421.81,454.97 423.54,454.64 425.26,454.26 426.96,453.83 428.63,453.36 430.27,452.85 431.86,452.29 433.4,451.7 434.88,451.06 436.32,450.39 437.72,449.67 439.08,448.91 440.41,448.11 441.72,447.26 443.01,446.36 444.28,445.42 445.54,444.44 446.8,443.4 448.05,442.28 449.27,441.06 450.48,439.75 451.67,438.4 452.85,437.01 454.01,435.62 455.15,434.25 456.28,432.92 457.4,431.66 458.5,430.5 459.6,429.41 460.69,428.37 461.78,427.36 462.86,426.4 463.91,425.46 464.94,424.56 465.94,423.69 466.91,422.84 467.83,422.01 468.7,421.2 469.52,420.41 470.31,419.63 471.06,418.88 471.77,418.15 472.44,417.45 473.09,416.78 473.71,416.15 474.3,415.56 474.86,415 475.4,414.5 475.9,414.01 476.34,413.52 476.75,413.05 477.12,412.61 477.47,412.21 477.81,411.89 478.15,411.64 478.51,411.5 478.89,411.48 479.3,411.6 479.75,411.86 480.23,412.25 480.73,412.75 481.25,413.35 481.76,414.04 482.27,414.8 482.77,415.62 483.25,416.49 483.69,417.38 484.1,418.3 484.47,419.27 484.81,420.32 485.12,421.43 485.42,422.61 485.69,423.82 485.96,425.06 486.22,426.31 486.48,427.56 486.73,428.8 487,430 487.26,431.17 487.51,432.33 487.75,433.48 487.98,434.63 488.21,435.79 488.45,436.97 488.69,438.17 488.94,439.4 489.21,440.68 489.5,442 489.81,443.39 490.14,444.86 490.48,446.39 490.83,447.95 491.19,449.53 491.55,451.11 491.92,452.66 492.28,454.18 492.65,455.63 493,457 493.34,458.29 493.67,459.52 493.99,460.7 494.3,461.84 494.62,462.96 494.96,464.05 495.3,465.15 495.67,466.24 496.07,467.36 496.5,468.5 496.97,469.68 497.48,470.89 498.02,472.13 498.58,473.37 499.16,474.6 499.74,475.81 500.32,476.99 500.9,478.13 501.46,479.2 502,480.2 502.52,481.13 503.03,482.02 503.54,482.85 504.04,483.64 504.53,484.39 505.02,485.11 505.52,485.8 506.01,486.45 506.5,487.09 507,487.7 507.49,488.28 507.98,488.82 508.46,489.33 508.94,489.8 509.43,490.25 509.91,490.68 510.41,491.09 510.92,491.5 511.45,491.9 512,492.3 512.55,492.69 513.07,493.05 513.6,493.39 514.12,493.72 514.67,494.04 515.26,494.37 515.89,494.7 516.58,495.04 517.35,495.41 518.2,495.8 519.21,496.24 520.39,496.74 521.7,497.27 523.08,497.82 524.49,498.37 525.86,498.9 527.15,499.4 528.31,499.84 529.27,500.21 530,500.5" fill="none" stroke="#1a8a1a" stroke-width="1.4" stroke-linejoin="round"/>
<polyline points="367,454 367.92,453.94 369.12,453.88 370.54,453.8 372.13,453.72 373.84,453.62 375.61,453.51 377.38,453.37 379.11,453.21 380.73,453.02 382.2,452.8 383.55,452.54 384.87,452.24 386.16,451.9 387.42,451.54 388.64,451.16 389.84,450.76 391.02,450.36 392.17,449.96 393.29,449.57 394.4,449.2 395.47,448.82 396.51,448.43 397.51,448.02 398.48,447.61 399.43,447.21 400.37,446.81 401.3,446.44 402.23,446.09 403.16,445.77 404.1,445.5 405.06,445.26 406.03,445.05 407.01,444.87 407.98,444.71 408.95,444.58 409.9,444.46 410.83,444.37 411.73,444.29 412.59,444.24 413.4,444.2 414.17,444.18 414.9,444.19 415.6,444.23 416.26,444.28 416.91,444.36 417.53,444.44 418.13,444.55 418.73,444.66 419.32,444.78 419.9,444.9 420.46,445.02 420.97,445.14 421.46,445.26 421.92,445.39 422.39,445.53 422.86,445.7 423.35,445.89 423.88,446.12 424.46,446.39 425.1,446.7 425.79,447.06 426.52,447.47 427.29,447.91 428.09,448.39 428.91,448.89 429.77,449.42 430.64,449.97 431.54,450.54 432.46,451.12 433.4,451.7 434.39,452.32 435.44,452.98 436.55,453.69 437.69,454.42 438.83,455.15 439.97,455.88 441.07,456.58 442.12,457.24 443.11,457.86 444,458.4 444.75,458.86 445.35,459.23 445.85,459.53 446.29,459.8 446.72,460.05 447.18,460.3 447.71,460.58 448.36,460.91 449.17,461.31 450.2,461.8 451.44,462.4 452.87,463.08 454.44,463.83 456.12,464.62 457.89,465.45 459.72,466.28 461.56,467.1 463.39,467.89 465.18,468.63 466.9,469.3 468.6,469.93 470.35,470.57 472.12,471.19 473.9,471.8 475.67,472.38 477.4,472.9 479.08,473.37 480.69,473.77 482.2,474.08 483.6,474.3 484.87,474.42 486.03,474.47 487.09,474.44 488.08,474.34 489.01,474.18 489.91,473.95 490.8,473.68 491.7,473.36 492.63,473 493.6,472.6 494.62,472.13 495.67,471.55 496.74,470.9 497.82,470.19 498.88,469.44 499.93,468.69 500.95,467.94 501.92,467.23 502.84,466.58 503.7,466 504.49,465.48 505.23,464.98 505.92,464.5 506.57,464.05 507.19,463.63 507.78,463.23 508.35,462.87 508.9,462.54 509.45,462.25 510,462 510.53,461.79 511.03,461.64 511.51,461.52 511.97,461.43 512.41,461.38 512.85,461.35 513.3,461.35 513.75,461.36 514.21,461.38 514.7,461.4 515.2,461.41 515.69,461.41 516.18,461.4 516.68,461.41 517.18,461.44 517.7,461.52 518.24,461.65 518.8,461.84 519.38,462.12 520,462.5 520.66,462.99 521.37,463.58 522.11,464.26 522.87,465.02 523.65,465.82 524.43,466.66 525.21,467.51 525.97,468.37 526.7,469.2 527.4,470 528.06,470.78 528.7,471.56 529.31,472.35 529.91,473.14 530.5,473.94 531.09,474.75 531.67,475.55 532.27,476.37 532.88,477.18 533.5,478 534.12,478.8 534.72,479.58 535.3,480.35 535.89,481.12 536.49,481.9 537.12,482.7 537.78,483.54 538.49,484.43 539.26,485.38 540.1,486.4 541.02,487.51 542.02,488.71 543.08,489.98 544.19,491.29 545.33,492.64 546.5,494.01 547.67,495.36 548.84,496.69 549.98,497.98 551.1,499.2 552.21,500.38 553.34,501.54 554.49,502.69 555.64,503.81 556.78,504.92 557.9,506 559,507.07 560.05,508.1 561.06,509.12 562,510.1 562.88,511.05 563.72,511.95 564.51,512.82 565.27,513.66 565.99,514.48 566.68,515.29 567.36,516.1 568.01,516.92 568.66,517.75 569.3,518.6 569.92,519.47 570.52,520.35 571.09,521.23 571.63,522.12 572.17,523.01 572.69,523.9 573.21,524.79 573.74,525.67 574.26,526.54 574.8,527.4 575.34,528.26 575.88,529.12 576.42,529.99 576.96,530.85 577.5,531.71 578.04,532.55 578.58,533.37 579.12,534.18 579.66,534.95 580.2,535.7 580.73,536.42 581.24,537.12 581.73,537.8 582.22,538.46 582.72,539.11 583.24,539.73 583.78,540.33 584.37,540.91 585,541.46 585.7,542 586.46,542.52 587.26,543.03 588.11,543.52 588.99,544 589.91,544.45 590.85,544.87 591.82,545.26 592.8,545.62 593.8,545.93 594.8,546.2 595.87,546.41 597.05,546.58 598.31,546.69 599.59,546.77 600.87,546.81 602.1,546.84 603.25,546.85 604.27,546.86 605.14,546.87 605.8,546.9" fill="none" stroke="#ff8a1a" stroke-width="1.4" stroke-linejoin="round"/>
<polyline points="367,455.3 368.31,455.38 370.05,455.48 372.13,455.6 374.45,455.73 376.92,455.88 379.45,456.02 381.94,456.16 384.31,456.29 386.46,456.41 388.3,456.5 389.84,456.56 391.17,456.6 392.36,456.62 393.43,456.62 394.44,456.62 395.42,456.63 396.42,456.66 397.49,456.7 398.67,456.78 400,456.9 401.47,457.06 403.02,457.25 404.64,457.47 406.32,457.71 408.04,457.97 409.78,458.24 411.53,458.51 413.28,458.78 415.01,459.05 416.7,459.3 418.37,459.54 420.04,459.78 421.71,460.02 423.38,460.25 425.04,460.49 426.71,460.74 428.38,460.99 430.05,461.25 431.73,461.52 433.4,461.8 435.08,462.09 436.76,462.38 438.44,462.68 440.12,462.98 441.8,463.29 443.48,463.62 445.16,463.96 446.84,464.32 448.52,464.7 450.2,465.1 451.89,465.52 453.6,465.94 455.32,466.37 457.05,466.82 458.76,467.29 460.46,467.79 462.14,468.31 463.77,468.87 465.36,469.46 466.9,470.1 468.37,470.79 469.79,471.54 471.17,472.34 472.5,473.17 473.81,474.03 475.11,474.9 476.39,475.78 477.68,476.64 478.98,477.49 480.3,478.3 481.64,479.1 483,479.92 484.36,480.73 485.72,481.55 487.07,482.35 488.42,483.14 489.75,483.9 491.06,484.64 492.35,485.34 493.6,486 494.81,486.61 495.97,487.17 497.1,487.7 498.21,488.19 499.31,488.67 500.4,489.13 501.51,489.59 502.64,490.04 503.8,490.51 505,491 506.22,491.49 507.44,491.97 508.67,492.44 509.91,492.91 511.17,493.39 512.47,493.87 513.81,494.37 515.2,494.88 516.67,495.43 518.2,496 519.84,496.61 521.59,497.27 523.43,497.95 525.33,498.65 527.26,499.37 529.2,500.09 531.12,500.8 533,501.49 534.8,502.16 536.5,502.8 538.13,503.4 539.72,503.97 541.27,504.52 542.78,505.05 544.26,505.57 545.7,506.1 547.11,506.62 548.48,507.16 549.81,507.72 551.1,508.3 552.36,508.91 553.57,509.54 554.76,510.18 555.9,510.84 557.01,511.5 558.08,512.16 559.11,512.82 560.11,513.46 561.07,514.09 562,514.7 562.88,515.28 563.72,515.83 564.51,516.36 565.27,516.88 565.99,517.4 566.68,517.92 567.36,518.45 568.01,519.01 568.66,519.59 569.3,520.2 569.92,520.85 570.52,521.51 571.09,522.2 571.63,522.9 572.17,523.62 572.69,524.36 573.21,525.11 573.74,525.86 574.26,526.63 574.8,527.4 575.34,528.19 575.88,529.02 576.42,529.87 576.96,530.74 577.5,531.61 578.04,532.47 578.58,533.32 579.12,534.15 579.66,534.95 580.2,535.7 580.73,536.42 581.24,537.12 581.73,537.8 582.22,538.46 582.72,539.11 583.24,539.73 583.78,540.33 584.37,540.91 585,541.46 585.7,542 586.46,542.52 587.26,543.03 588.11,543.52 588.99,544 589.91,544.45 590.85,544.87 591.82,545.26 592.8,545.62 593.8,545.93 594.8,546.2 595.81,546.41 596.83,546.57 597.86,546.69 598.91,546.76 599.98,546.81 601.08,546.83 602.2,546.84 603.36,546.85 604.56,546.87 605.8,546.9 607.15,546.93 608.66,546.96 610.27,546.98 611.93,546.99 613.59,546.99 615.19,547 616.68,547 618.02,547 619.14,547 620,547" fill="none" stroke="#33e6f0" stroke-width="1.5" stroke-linejoin="round"/>
<polyline points="367,454.9 400,456 433,460.3 456,464.6" fill="none" stroke="#4455cc" stroke-width="0.7" stroke-linejoin="round" stroke-dasharray="1.5 1.5"/>
<polyline points="455,465.8 455.7,465.98 456.59,466.18 457.65,466.42 458.83,466.68 460.11,466.98 461.46,467.32 462.84,467.71 464.23,468.15 465.6,468.65 466.9,469.2 468.18,469.84 469.49,470.56 470.81,471.36 472.16,472.21 473.51,473.09 474.88,474 476.24,474.91 477.6,475.81 478.96,476.68 480.3,477.5 481.66,478.3 483.06,479.13 484.48,479.96 485.91,480.78 487.32,481.59 488.71,482.38 490.05,483.12 491.32,483.81 492.51,484.44 493.6,485 494.57,485.47 495.42,485.87 496.17,486.19 496.86,486.47 497.51,486.71 498.14,486.93 498.78,487.13 499.45,487.33 500.19,487.55 501,487.8 501.89,488.07 502.83,488.34 503.81,488.62 504.82,488.9 505.84,489.17 506.88,489.43 507.91,489.68 508.93,489.91 509.93,490.12 510.9,490.3 511.84,490.46 512.76,490.61 513.66,490.74 514.55,490.85 515.44,490.95 516.33,491.03 517.23,491.1 518.14,491.15 519.06,491.18 520,491.2 520.98,491.2 522,491.19 523.04,491.16 524.1,491.12 525.16,491.06 526.21,490.99 527.23,490.89 528.21,490.78 529.14,490.65 530,490.5 530.8,490.33 531.56,490.13 532.27,489.91 532.95,489.68 533.59,489.43 534.21,489.16 534.81,488.88 535.38,488.59 535.95,488.3 536.5,488 537.03,487.7 537.53,487.39 537.99,487.08 538.44,486.76 538.87,486.43 539.29,486.08 539.71,485.72 540.13,485.34 540.55,484.93 541,484.5 541.45,484.06 541.9,483.62 542.34,483.17 542.79,482.7 543.24,482.21 543.69,481.69 544.15,481.13 544.62,480.51 545.1,479.84 545.6,479.1 546.12,478.28 546.66,477.4 547.22,476.44 547.79,475.44 548.36,474.4 548.94,473.33 549.5,472.24 550.06,471.15 550.59,470.07 551.1,469 551.59,467.93 552.07,466.82 552.54,465.69 553,464.55 553.44,463.41 553.88,462.27 554.3,461.15 554.71,460.06 555.11,459.01 555.5,458 555.87,457.07 556.21,456.22 556.53,455.43 556.84,454.67 557.14,453.91 557.43,453.14 557.73,452.33 558.04,451.45 558.36,450.48 558.7,449.4 559.06,448.18 559.44,446.82 559.84,445.37 560.24,443.85 560.64,442.29 561.04,440.72 561.44,439.18 561.81,437.69 562.17,436.29 562.5,435 562.81,433.78 563.12,432.56 563.42,431.36 563.71,430.2 563.99,429.1 564.24,428.07 564.47,427.13 564.68,426.29 564.86,425.58 565,425" fill="none" stroke="#1a8a1a" stroke-width="1.4" stroke-linejoin="round"/>
<polyline points="367,454.17 367.53,453.52 368.2,454.33 368.99,453.48 369.88,453.33 370.84,454.3 371.36,453.86 371.87,453.93 372.4,453.86 372.94,454.29 373.48,453.48 374.03,453.99 374.57,453.72 375.12,453.9 375.66,453.19 376.2,453.54 376.75,453.21 377.29,452.71 377.86,452.46 378.43,452.96 379.02,452.01 379.61,453.13 380.22,451.84 380.83,451.53 381.44,451.49 382.06,452.57 382.69,451.54 383.31,451.07 383.94,450.73 384.57,450.58 385.2,451.39 385.83,451.12 386.45,451.04 387.07,450.92 387.69,449.73 388.3,450.34 388.91,449.8 389.53,450.29 390.15,450.09 390.77,449.99 391.4,448.53 392.03,449.52 392.66,449.36 393.29,449.18 393.92,447.69 394.55,447.61 395.17,447.24 395.8,446.89 396.41,447.88 397.02,447.6 397.62,447.12 398.22,447.19 398.8,446.69 399.38,445.96 399.94,445.49 400.5,445.3 401.04,446.11 401.59,445.1 402.12,445.09 402.66,445.07 403.18,444.29 403.71,444.48 404.22,444.35 404.73,444.83 405.73,444 406.7,443.62 407.63,444.31 408.53,443.36 409.39,443.64 410.2,443.08 410.94,442.01 411.61,442.42 412.22,442.31 412.78,442.7 413.32,441.96 413.86,442.41 414.41,442.09 414.98,441.55 415.61,442.48 416.3,441.29 417.05,442.36 417.83,441.38 418.64,441.14 419.47,441.47 420.33,442.36 421.2,442.73 422.09,441.33 422.98,442.13 423.89,442.21 424.8,442.75 425.72,441.93 426.67,442.53 427.63,442.47 428.6,443.36 429.59,442.68 430.58,443.86 431.57,443.01 432.55,443.01 433.53,443.8 434.5,443.5 435.48,442.86 436.48,443.56 436.98,442.66 437.49,443.66 437.99,443.44 438.5,443.49 439,443.16 439.51,442.66 440.49,442.42 441.44,441.99 442.35,442.31 443.21,440.69 444,441.48 444.7,439.81 445.31,439.75 445.84,439.52 446.33,440.16 446.79,439.23 447.26,438.68 447.75,439 448.29,437.52 448.9,437.25 449.6,436.63 450.4,436.19 451.27,435.4 452.19,434.37 453.16,432.98 454.16,431.96 454.67,431.18 455.18,431.7 455.69,430.9 456.2,430.48 456.71,429.09 457.22,428.95 457.72,428.92 458.23,428.08 459.2,426.34 460.17,425.75 461.15,425.24 462.15,423.08 463.14,421.79 464.13,420.73 465.11,420.12 466.06,419.15 466.98,416.97 467.86,415.89 468.7,415.02 469.5,414.2 470.26,413.59 471,412.18 471.72,411.6 472.4,410.6 473.06,411.03 473.68,409.95 474.28,408.33 474.86,408.99 475.4,407.1 475.9,406.95 476.36,407.29 476.78,406.48 477.17,405.88 477.53,404.98 477.88,404.23 478.23,404.57 478.57,403.52 478.93,403.51 479.3,403.73 479.68,403.23 480.05,403.87 480.42,404.62 480.78,404.7 481.14,404.73 481.51,405.32 481.89,405.56 482.28,405.67 482.68,407.05 483.1,407.56 483.54,408.99 483.98,410.28 484.44,410.73 484.9,412.2 485.38,413.81 485.87,414.74 486.36,415.94 486.87,418.23 487.38,420.05 487.9,421.51 488.43,423.12 488.98,425.2 489.54,426.91 490.11,428.9 490.69,430.69 491.27,432.54 491.85,435.04 492.44,436.19 493.02,438.5 493.6,440.72 494.17,442.18 494.72,443.56 495.28,444.44 495.83,446.09 496.38,447.45 496.95,448.93 497.52,449.76 498.12,451.23 498.75,452.58 499.4,452.32 500.08,453.79 500.77,454.61 501.48,454.56 502.21,455.16 502.96,456.26 503.73,455.15 504.52,456.15 505.32,455.78 506.15,456.88 507,457.26 507.88,456.7 508.79,456.03 509.73,456.61 510.7,456.37 511.68,456.42 512.66,455.9 513.66,455.9 514.65,456.06 515.63,455.56 516.6,455.47 517.56,456.46 518.52,455.62 519.48,456.66 520.44,456.61 521.4,457.59 522.36,457.08 523.32,458.84 524.28,458.37 525.24,458.39 526.2,459.16 527.18,459.79 527.68,459.45 528.19,460.29 528.7,460.53 529.21,461.19 529.73,460.92 530.24,461.04 530.75,461.23 531.26,462.25 532.26,463.04 533.23,462.91 534.15,462.92 535.01,464.24 535.8,464.04 536.5,464.19 537.11,464.52 537.65,465.96 538.14,466.47 538.6,466.65 539.05,466.78 539.52,467.24 540.02,466.97 540.57,468.2 541.2,467.28 541.88,467.63 542.59,467.8 543.32,467.64 544.08,466.89 544.86,466.31 545.67,466.25 546.51,465.02 547.38,465.33 548.27,463.65 549.2,463.23 550.17,460.96 550.69,460.34 551.21,459.36 551.75,458.75 552.29,457.51 552.84,456.27 553.4,456.39 553.97,454.69 554.53,453.6 555.1,452.57 555.67,451.73 556.23,450.48 556.8,449.62 557.35,448.42 557.9,446.74 558.44,446.3 558.98,444.9 559.49,442.37 560,442.19 560.99,439.42 561.98,436.06 562.95,431.69 563.91,429.18 564.84,425.26 565.76,420.71 566.64,417.16 567.5,415.16 568.32,411.53 569.1,408.03 569.84,405.12 570.55,402.58 571.23,400.23 571.88,398.67 572.49,395.84 573.08,393.52 573.65,392.77 574.19,390.9 574.7,388.43 575.2,388.19 575.66,386.63 576.08,385.95 576.45,385.03 576.81,384.77 577.14,384.17 577.46,383.96 577.78,382.83 578.1,383.53 578.44,383.34 578.8,383.81 579.18,383.6 579.57,384.59 579.97,384.54 580.38,384.61 580.78,385.2 581.18,385.83 581.58,387.3 581.97,387.75 582.34,389.66 582.7,390.67 583.04,392.9 583.37,394.84 583.69,397.04 584,399.83 584.31,401 584.61,404.84 584.9,406.97 585.2,409.89 585.5,412.88 585.8,416.01 586.11,418.3 586.42,421.56 586.74,425.71 587.05,427.82 587.36,432.17 587.67,435.68 587.97,438.26 588.26,442.54 588.54,445.95 588.8,449.45 589.05,451.51 589.27,455.32 589.49,457.35 589.69,459.99 589.89,463.23 590.08,464.55 590.28,468.21 590.48,470.73 590.68,473.03 590.9,476.64 591.12,478.85 591.35,482.08 591.58,485.29 591.8,488.85 592.04,491.2 592.28,494.69 592.52,497.77 592.77,500.96 593.03,504.22 593.3,506.09 593.58,509.42 593.85,511.22 594.13,513.72 594.42,515.63 594.72,518.15 595.03,520.92 595.35,522.43 595.68,524.53 596.03,525.64 596.4,527.33 596.78,528.91 597.16,530.84 597.55,532.31 597.95,533.84 598.37,533.94 598.81,536.11 599.28,537.42 599.78,537.92 600.32,538.12 600.9,539.4 601.52,539.8 602.16,540.82 602.83,542.6 603.53,542.74 604.26,543.36 605.03,544.05 605.84,544.68 606.68,544.64 607.57,545.02 608.5,545.39 609.43,545.8 610.33,545.89 611.23,546.2 612.16,545.64 613.14,546.43 613.68,546.16 614.22,546.65 614.82,545.69 615.41,545.85 616.08,545.66 616.75,546.79 617.26,547.02 617.77,546.65 618.27,546.24 618.85,546.94 619.42,546.91 620,546.59 620.52,546.15 621.04,546.24 621.56,546.43 622.08,546.29 622.71,546.47 623.33,546.8 623.96,547.25 624.58,545.95 625.14,546.72 625.7,545.94 626.26,546.06 626.81,547.11 627.37,546.76 627.97,547.28 628.56,546.58 629.15,545.93 629.75,546.5 630.34,546.81 630.85,547.33 631.35,547.39 631.85,546.64 632.36,546.55 632.86,546.08 633.37,546.9 633.96,546.25 634.56,546.16 635.15,545.96 635.75,545.94 636.34,546.96 636.9,546.12 637.46,547.39 638.02,546.07 638.58,547.24 639.13,546.13 639.64,545.97 640.14,547.02 640.64,546.3 641.14,547.04 641.64,546.22 642.16,546.02 642.69,547.1 643.21,547.01 643.73,547.23 644.26,547.04 644.78,546.07 645.3,546.7" fill="none" stroke="#111" stroke-width="2.5" stroke-linejoin="round"/>
<polyline points="367,452.8 367.53,452.78 368.2,452.76 368.99,452.74 369.88,452.72 370.84,452.69 371.87,452.64 372.94,452.58 374.03,452.48 375.12,452.36 376.2,452.2 377.29,452 378.43,451.77 379.61,451.52 380.83,451.24 382.06,450.93 383.31,450.61 384.57,450.27 385.83,449.92 387.07,449.56 388.3,449.2 389.53,448.82 390.77,448.4 392.03,447.96 393.29,447.51 394.55,447.05 395.8,446.59 397.02,446.14 398.22,445.7 399.38,445.28 400.5,444.9 401.59,444.54 402.66,444.18 403.71,443.84 404.73,443.51 405.73,443.19 406.7,442.89 407.63,442.61 408.53,442.35 409.39,442.11 410.2,441.9 410.94,441.71 411.61,441.55 412.22,441.41 412.78,441.29 413.32,441.19 413.86,441.1 414.41,441.03 414.98,440.98 415.61,440.93 416.3,440.9 417.05,440.88 417.83,440.88 418.64,440.89 419.47,440.92 420.33,440.96 421.2,441.02 422.09,441.08 422.98,441.15 423.89,441.22 424.8,441.3 425.72,441.4 426.67,441.54 427.63,441.7 428.6,441.87 429.59,442.04 430.58,442.2 431.57,442.34 432.55,442.44 433.53,442.5 434.5,442.5 435.48,442.45 436.48,442.35 437.49,442.22 438.5,442.06 439.51,441.88 440.49,441.66 441.44,441.44 442.35,441.2 443.21,440.95 444,440.7 444.7,440.47 445.31,440.25 445.84,440.04 446.33,439.83 446.79,439.59 447.26,439.31 447.75,438.97 448.29,438.57 448.9,438.09 449.6,437.5 450.4,436.81 451.27,436.02 452.19,435.15 453.16,434.21 454.16,433.22 455.18,432.18 456.2,431.12 457.22,430.04 458.23,428.97 459.2,427.9 460.17,426.81 461.15,425.66 462.15,424.47 463.14,423.25 464.13,422.03 465.11,420.82 466.06,419.63 466.98,418.49 467.86,417.4 468.7,416.4 469.5,415.46 470.26,414.55 471,413.69 471.72,412.86 472.4,412.07 473.06,411.32 473.68,410.6 474.28,409.93 474.86,409.29 475.4,408.7 475.9,408.13 476.36,407.57 476.78,407.03 477.17,406.53 477.53,406.08 477.88,405.69 478.23,405.36 478.57,405.11 478.93,404.95 479.3,404.9 479.68,404.93 480.05,405.02 480.42,405.18 480.78,405.41 481.14,405.72 481.51,406.12 481.89,406.61 482.28,407.2 482.68,407.9 483.1,408.7 483.54,409.63 483.98,410.67 484.44,411.83 484.9,413.09 485.38,414.44 485.87,415.86 486.36,417.35 486.87,418.9 487.38,420.48 487.9,422.1 488.43,423.82 488.98,425.68 489.54,427.64 490.11,429.68 490.69,431.76 491.27,433.82 491.85,435.85 492.44,437.8 493.02,439.63 493.6,441.3 494.17,442.86 494.72,444.37 495.28,445.82 495.83,447.2 496.38,448.51 496.95,449.75 497.52,450.9 498.12,451.96 498.75,452.93 499.4,453.8 500.08,454.55 500.77,455.19 501.48,455.73 502.21,456.18 502.96,456.54 503.73,456.84 504.52,457.09 505.32,457.29 506.15,457.45 507,457.6 507.88,457.67 508.79,457.63 509.73,457.5 510.7,457.31 511.68,457.09 512.66,456.88 513.66,456.69 514.65,456.56 515.63,456.52 516.6,456.6 517.56,456.79 518.52,457.05 519.48,457.38 520.44,457.77 521.4,458.19 522.36,458.65 523.32,459.12 524.28,459.59 525.24,460.06 526.2,460.5 527.18,460.94 528.19,461.41 529.21,461.9 530.24,462.39 531.26,462.89 532.26,463.38 533.23,463.87 534.15,464.34 535.01,464.78 535.8,465.2 536.5,465.62 537.11,466.08 537.65,466.55 538.14,467.01 538.6,467.44 539.05,467.83 539.52,468.15 540.02,468.38 540.57,468.5 541.2,468.5 541.88,468.42 542.59,468.32 543.32,468.17 544.08,467.94 544.86,467.62 545.67,467.18 546.51,466.59 547.38,465.83 548.27,464.87 549.2,463.7 550.17,462.31 551.21,460.73 552.29,458.98 553.4,457.06 554.53,454.98 555.67,452.76 556.8,450.41 557.9,447.95 558.98,445.37 560,442.7 560.99,439.81 561.98,436.63 562.95,433.23 563.91,429.68 564.84,426.06 565.76,422.44 566.64,418.89 567.5,415.48 568.32,412.3 569.1,409.4 569.84,406.72 570.55,404.12 571.23,401.63 571.88,399.25 572.49,397.01 573.08,394.9 573.65,392.96 574.19,391.18 574.7,389.59 575.2,388.2 575.66,387.01 576.08,386.02 576.45,385.22 576.81,384.58 577.14,384.1 577.46,383.76 577.78,383.56 578.1,383.47 578.44,383.49 578.8,383.6 579.18,383.79 579.57,384.07 579.97,384.46 580.38,384.96 580.78,385.59 581.18,386.37 581.58,387.31 581.97,388.42 582.34,389.71 582.7,391.2 583.04,392.91 583.37,394.85 583.69,396.98 584,399.29 584.31,401.74 584.61,404.33 584.9,407.02 585.2,409.8 585.5,412.63 585.8,415.5 586.11,418.49 586.42,421.68 586.74,425.02 587.05,428.46 587.36,431.96 587.67,435.48 587.97,438.97 588.26,442.38 588.54,445.67 588.8,448.8 589.05,451.76 589.27,454.6 589.49,457.34 589.69,460.01 589.89,462.64 590.08,465.25 590.28,467.88 590.48,470.54 590.68,473.28 590.9,476.1 591.12,479.05 591.35,482.11 591.58,485.26 591.8,488.44 592.04,491.63 592.28,494.79 592.52,497.88 592.77,500.87 593.03,503.73 593.3,506.4 593.58,508.93 593.85,511.37 594.13,513.72 594.42,515.97 594.72,518.14 595.03,520.21 595.35,522.2 595.68,524.09 596.03,525.89 596.4,527.6 596.78,529.21 597.16,530.71 597.55,532.11 597.95,533.41 598.37,534.63 598.81,535.77 599.28,536.84 599.78,537.85 600.32,538.8 600.9,539.7 601.52,540.54 602.16,541.29 602.83,541.97 603.53,542.58 604.26,543.12 605.03,543.62 605.84,544.07 606.68,544.47 607.57,544.85 608.5,545.2 609.43,545.51 610.33,545.75 611.23,545.93 612.16,546.08 613.14,546.18 614.22,546.26 615.41,546.32 616.75,546.38 618.27,546.43 620,546.5 622.08,546.57 624.58,546.61 627.37,546.65 630.34,546.67 633.37,546.68 636.34,546.69 639.13,546.69 641.64,546.69 643.73,546.69 645.3,546.7" fill="none" stroke="#7a1a8a" stroke-width="1.6" stroke-linejoin="round"/>
<text x="31.4" y="226.8" font-family='"Liberation Serif", serif' font-weight="bold" font-size="10.73" fill="#141414" text-anchor="end" textLength="17.5" lengthAdjust="spacingAndGlyphs" stroke="#141414" stroke-width="0.28">1x10</text>
<text x="31.3" y="220.4" font-family='"Liberation Serif", serif' font-weight="bold" font-size="4.8" fill="#141414" text-anchor="start" stroke="#141414" stroke-width="0.28">5</text>
<text x="31.4" y="190.6" font-family='"Liberation Serif", serif' font-weight="bold" font-size="10.73" fill="#141414" text-anchor="end" textLength="17.5" lengthAdjust="spacingAndGlyphs" stroke="#141414" stroke-width="0.28">2x10</text>
<text x="31.3" y="184.2" font-family='"Liberation Serif", serif' font-weight="bold" font-size="4.8" fill="#141414" text-anchor="start" stroke="#141414" stroke-width="0.28">5</text>
<text x="31.4" y="154.4" font-family='"Liberation Serif", serif' font-weight="bold" font-size="10.73" fill="#141414" text-anchor="end" textLength="17.5" lengthAdjust="spacingAndGlyphs" stroke="#141414" stroke-width="0.28">3x10</text>
<text x="31.3" y="148" font-family='"Liberation Serif", serif' font-weight="bold" font-size="4.8" fill="#141414" text-anchor="start" stroke="#141414" stroke-width="0.28">5</text>
<text x="31.4" y="118.2" font-family='"Liberation Serif", serif' font-weight="bold" font-size="10.73" fill="#141414" text-anchor="end" textLength="17.5" lengthAdjust="spacingAndGlyphs" stroke="#141414" stroke-width="0.28">4x10</text>
<text x="31.3" y="111.8" font-family='"Liberation Serif", serif' font-weight="bold" font-size="4.8" fill="#141414" text-anchor="start" stroke="#141414" stroke-width="0.28">5</text>
<text x="31.4" y="82" font-family='"Liberation Serif", serif' font-weight="bold" font-size="10.73" fill="#141414" text-anchor="end" textLength="17.5" lengthAdjust="spacingAndGlyphs" stroke="#141414" stroke-width="0.28">5x10</text>
<text x="31.3" y="75.6" font-family='"Liberation Serif", serif' font-weight="bold" font-size="4.8" fill="#141414" text-anchor="start" stroke="#141414" stroke-width="0.28">5</text>
<text x="31.4" y="45.8" font-family='"Liberation Serif", serif' font-weight="bold" font-size="10.73" fill="#141414" text-anchor="end" textLength="17.5" lengthAdjust="spacingAndGlyphs" stroke="#141414" stroke-width="0.28">6x10</text>
<text x="31.3" y="39.4" font-family='"Liberation Serif", serif' font-weight="bold" font-size="4.8" fill="#141414" text-anchor="start" stroke="#141414" stroke-width="0.28">5</text>
<text x="31.4" y="9.6" font-family='"Liberation Serif", serif' font-weight="bold" font-size="10.73" fill="#141414" text-anchor="end" textLength="17.5" lengthAdjust="spacingAndGlyphs" stroke="#141414" stroke-width="0.28">7x10</text>
<text x="31.3" y="3.2" font-family='"Liberation Serif", serif' font-weight="bold" font-size="4.8" fill="#141414" text-anchor="start" stroke="#141414" stroke-width="0.28">5</text>
<text x="33.4" y="262.7" font-family='"Liberation Serif", serif' font-weight="bold" font-size="10.57" fill="#141414" text-anchor="end" textLength="3.6" lengthAdjust="spacingAndGlyphs" stroke="#141414" stroke-width="0.28">0</text>
<text transform="translate(7.9 161.8) scale(0.8 1) rotate(-90)" font-family='"Liberation Serif", serif' font-weight="bold" font-size="13.6" fill="#141414" textLength="76" lengthAdjust="spacingAndGlyphs" stroke="#141414" stroke-width="0.28">Intensity(a.u.)</text>
<text x="68.41" y="272.8" font-family='"Liberation Serif", serif' font-weight="bold" font-size="11.03" fill="#141414" text-anchor="middle" textLength="16.2" lengthAdjust="spacingAndGlyphs" stroke="#141414" stroke-width="0.28">1200</text>
<text x="108.56" y="272.8" font-family='"Liberation Serif", serif' font-weight="bold" font-size="11.03" fill="#141414" text-anchor="middle" textLength="16.2" lengthAdjust="spacingAndGlyphs" stroke="#141414" stroke-width="0.28">1000</text>
<text x="148.71" y="272.8" font-family='"Liberation Serif", serif' font-weight="bold" font-size="11.03" fill="#141414" text-anchor="middle" textLength="12" lengthAdjust="spacingAndGlyphs" stroke="#141414" stroke-width="0.28">800</text>
<text x="188.86" y="272.8" font-family='"Liberation Serif", serif' font-weight="bold" font-size="11.03" fill="#141414" text-anchor="middle" textLength="12" lengthAdjust="spacingAndGlyphs" stroke="#141414" stroke-width="0.28">600</text>
<text x="229" y="272.8" font-family='"Liberation Serif", serif' font-weight="bold" font-size="11.03" fill="#141414" text-anchor="middle" textLength="12" lengthAdjust="spacingAndGlyphs" stroke="#141414" stroke-width="0.28">400</text>
<text x="269.15" y="272.8" font-family='"Liberation Serif", serif' font-weight="bold" font-size="11.03" fill="#141414" text-anchor="middle" textLength="12" lengthAdjust="spacingAndGlyphs" stroke="#141414" stroke-width="0.28">200</text>
<text x="309.3" y="272.8" font-family='"Liberation Serif", serif' font-weight="bold" font-size="11.03" fill="#141414" text-anchor="middle" textLength="4.2" lengthAdjust="spacingAndGlyphs" stroke="#141414" stroke-width="0.28">0</text>
<text x="130.3" y="289.1" font-family='"Liberation Serif", serif' font-weight="bold" font-size="12.08" fill="#141414" text-anchor="start" textLength="87.1" lengthAdjust="spacingAndGlyphs" stroke="#141414" stroke-width="0.28">Binding energy (ev)</text>
<text x="289.8" y="26.6" font-family='"Liberation Serif", serif' font-weight="bold" font-size="23.6" fill="#141414" text-anchor="start" textLength="26.3" lengthAdjust="spacingAndGlyphs" stroke="#141414" stroke-width="0.55">(a)</text>
<text transform="translate(116.7 61) scale(0.8 1) rotate(-90)" font-family='"Liberation Serif", serif' font-weight="bold" font-size="12.65" fill="#141414" textLength="48.8" lengthAdjust="spacingAndGlyphs" stroke="#141414" stroke-width="0.28">O(Auger)</text>
<text transform="translate(155.2 126.2) scale(0.8 1) rotate(-90)" font-family='"Liberation Serif", serif' font-weight="bold" font-size="11.33" fill="#141414" textLength="50" lengthAdjust="spacingAndGlyphs" stroke="#141414" stroke-width="0.28">Fe(Auger)</text>
<text transform="translate(164.4 107.7) scale(0.8 1) rotate(-90)" font-family='"Liberation Serif", serif' font-weight="bold" font-size="9.25" fill="#141414" textLength="22.6" lengthAdjust="spacingAndGlyphs" stroke="#141414" stroke-width="0.28">Fe2p</text>
<text transform="translate(170.5 108) scale(0.8 1) rotate(-90)" font-family='"Liberation Serif", serif' font-weight="bold" font-size="9.25" fill="#141414" textLength="22.9" lengthAdjust="spacingAndGlyphs" stroke="#141414" stroke-width="0.28">Fe2p</text>
<text transform="translate(205.4 98) scale(0.8 1) rotate(-90)" font-family='"Liberation Serif", serif' font-weight="bold" font-size="11.9" fill="#141414" textLength="19.1" lengthAdjust="spacingAndGlyphs" stroke="#141414" stroke-width="0.28">O1s</text>
<text transform="translate(198.5 215) scale(0.8 1) rotate(-90)" font-family='"Liberation Serif", serif' font-weight="bold" font-size="10.57" fill="#141414" textLength="39.7" lengthAdjust="spacingAndGlyphs" stroke="#141414" stroke-width="0.28">O(Loss)</text>
<text transform="translate(256 229.7) scale(0.8 1) rotate(-90)" font-family='"Liberation Serif", serif' font-weight="bold" font-size="12.27" fill="#141414" textLength="19.6" lengthAdjust="spacingAndGlyphs" stroke="#141414" stroke-width="0.28">C1s</text>
<text transform="translate(273.1 236.2) scale(0.8 1) rotate(-90)" font-family='"Liberation Serif", serif' font-weight="bold" font-size="11.9" fill="#141414" textLength="24.1" lengthAdjust="spacingAndGlyphs" stroke="#141414" stroke-width="0.28">Cl2p</text>
<text transform="translate(301.2 220.6) scale(0.8 1) rotate(-90)" font-family='"Liberation Serif", serif' font-weight="bold" font-size="11.33" fill="#141414" textLength="38.6" lengthAdjust="spacingAndGlyphs" stroke="#141414" stroke-width="0.28">Fe3p3/2</text>
<text x="367.9" y="227.01" font-family='"Liberation Serif", serif' font-weight="bold" font-size="9.06" fill="#141414" text-anchor="end" textLength="13.2" lengthAdjust="spacingAndGlyphs" stroke="#141414" stroke-width="0.28">10k</text>
<text x="367.9" y="191.13" font-family='"Liberation Serif", serif' font-weight="bold" font-size="9.06" fill="#141414" text-anchor="end" textLength="13.2" lengthAdjust="spacingAndGlyphs" stroke="#141414" stroke-width="0.28">20k</text>
<text x="367.9" y="155.24" font-family='"Liberation Serif", serif' font-weight="bold" font-size="9.06" fill="#141414" text-anchor="end" textLength="13.2" lengthAdjust="spacingAndGlyphs" stroke="#141414" stroke-width="0.28">30k</text>
<text x="367.9" y="119.36" font-family='"Liberation Serif", serif' font-weight="bold" font-size="9.06" fill="#141414" text-anchor="end" textLength="13.2" lengthAdjust="spacingAndGlyphs" stroke="#141414" stroke-width="0.28">40k</text>
<text x="367.9" y="83.47" font-family='"Liberation Serif", serif' font-weight="bold" font-size="9.06" fill="#141414" text-anchor="end" textLength="13.2" lengthAdjust="spacingAndGlyphs" stroke="#141414" stroke-width="0.28">50k</text>
<text x="367.9" y="47.59" font-family='"Liberation Serif", serif' font-weight="bold" font-size="9.06" fill="#141414" text-anchor="end" textLength="13.2" lengthAdjust="spacingAndGlyphs" stroke="#141414" stroke-width="0.28">60k</text>
<text x="367.9" y="11.7" font-family='"Liberation Serif", serif' font-weight="bold" font-size="9.06" fill="#141414" text-anchor="end" textLength="13.2" lengthAdjust="spacingAndGlyphs" stroke="#141414" stroke-width="0.28">70k</text>
<text x="367" y="262.5" font-family='"Liberation Serif", serif' font-weight="bold" font-size="7.55" fill="#141414" text-anchor="end" textLength="3.6" lengthAdjust="spacingAndGlyphs" stroke="#141414" stroke-width="0.28">0</text>
<text transform="translate(349.8 162.9) scale(0.8 1) rotate(-90)" font-family='"Liberation Serif", serif' font-weight="bold" font-size="11.9" fill="#141414" textLength="73.6" lengthAdjust="spacingAndGlyphs" stroke="#141414" stroke-width="0.28">Intensity(CPS)</text>
<text x="370" y="271.8" font-family='"Liberation Serif", serif' font-weight="bold" font-size="9.67" fill="#141414" text-anchor="middle" textLength="11.4" lengthAdjust="spacingAndGlyphs" stroke="#141414" stroke-width="0.28">740</text>
<text x="406.53" y="271.8" font-family='"Liberation Serif", serif' font-weight="bold" font-size="9.67" fill="#141414" text-anchor="middle" textLength="11.4" lengthAdjust="spacingAndGlyphs" stroke="#141414" stroke-width="0.28">735</text>
<text x="443.05" y="271.8" font-family='"Liberation Serif", serif' font-weight="bold" font-size="9.67" fill="#141414" text-anchor="middle" textLength="11.4" lengthAdjust="spacingAndGlyphs" stroke="#141414" stroke-width="0.28">730</text>
<text x="479.58" y="271.8" font-family='"Liberation Serif", serif' font-weight="bold" font-size="9.67" fill="#141414" text-anchor="middle" textLength="11.4" lengthAdjust="spacingAndGlyphs" stroke="#141414" stroke-width="0.28">725</text>
<text x="516.11" y="271.8" font-family='"Liberation Serif", serif' font-weight="bold" font-size="9.67" fill="#141414" text-anchor="middle" textLength="11.4" lengthAdjust="spacingAndGlyphs" stroke="#141414" stroke-width="0.28">720</text>
<text x="552.63" y="271.8" font-family='"Liberation Serif", serif' font-weight="bold" font-size="9.67" fill="#141414" text-anchor="middle" textLength="11.4" lengthAdjust="spacingAndGlyphs" stroke="#141414" stroke-width="0.28">715</text>
<text x="589.16" y="271.8" font-family='"Liberation Serif", serif' font-weight="bold" font-size="9.67" fill="#141414" text-anchor="middle" textLength="11.4" lengthAdjust="spacingAndGlyphs" stroke="#141414" stroke-width="0.28">710</text>
<text x="625.68" y="271.8" font-family='"Liberation Serif", serif' font-weight="bold" font-size="9.67" fill="#141414" text-anchor="middle" textLength="11.4" lengthAdjust="spacingAndGlyphs" stroke="#141414" stroke-width="0.28">705</text>
<text x="470.3" y="284.1" font-family='"Liberation Serif", serif' font-weight="bold" font-size="11.63" fill="#141414" text-anchor="start" textLength="86.6" lengthAdjust="spacingAndGlyphs" stroke="#141414" stroke-width="0.28">Binding Energy (eV)</text>
<text x="384" y="31.8" font-family='"Liberation Serif", serif' font-weight="bold" font-size="12.08" fill="#141414" text-anchor="start" textLength="23" lengthAdjust="spacingAndGlyphs" stroke="#141414" stroke-width="0.28">Fe 2p</text>
<text x="630.1" y="28.6" font-family='"Liberation Serif", serif' font-weight="bold" font-size="23.2" fill="#141414" text-anchor="start" textLength="28.3" lengthAdjust="spacingAndGlyphs" stroke="#141414" stroke-width="0.55">(b)</text>
<text x="401.3" y="98.4" font-family='"Liberation Serif", serif' font-weight="bold" font-size="10.42" fill="#141414" text-anchor="start" textLength="18.8" lengthAdjust="spacingAndGlyphs" stroke="#141414" stroke-width="0.28">Fe2p</text>
<text x="420.5" y="103" font-family='"Liberation Serif", serif' font-weight="bold" font-size="9.32" fill="#141414" text-anchor="start" textLength="10.9" lengthAdjust="spacingAndGlyphs" stroke="#141414" stroke-width="0.28">1/2</text>
<text x="433.9" y="98.4" font-family='"Liberation Serif", serif' font-weight="bold" font-size="9.38" fill="#141414" text-anchor="start" textLength="10.4" lengthAdjust="spacingAndGlyphs" stroke="#141414" stroke-width="0.28">sat</text>
<text x="472.6" y="62.9" font-family='"Liberation Serif", serif' font-weight="bold" font-size="11.03" fill="#141414" text-anchor="start" textLength="17.6" lengthAdjust="spacingAndGlyphs" stroke="#141414" stroke-width="0.28">Fe2p</text>
<text x="490.8" y="66.5" font-family='"Liberation Serif", serif' font-weight="bold" font-size="9.47" fill="#141414" text-anchor="start" textLength="10.3" lengthAdjust="spacingAndGlyphs" stroke="#141414" stroke-width="0.28">1/2</text>
<text x="571.2" y="50.6" font-family='"Liberation Serif", serif' font-weight="bold" font-size="11.03" fill="#141414" text-anchor="start" textLength="18.2" lengthAdjust="spacingAndGlyphs" stroke="#141414" stroke-width="0.28">Fe2p</text>
<text x="590" y="54.5" font-family='"Liberation Serif", serif' font-weight="bold" font-size="9.47" fill="#141414" text-anchor="start" textLength="11.3" lengthAdjust="spacingAndGlyphs" stroke="#141414" stroke-width="0.28">3/2</text>
<text x="502.7" y="120.1" font-family='"Liberation Serif", serif' font-weight="bold" font-size="10.42" fill="#141414" text-anchor="start" textLength="18.1" lengthAdjust="spacingAndGlyphs" stroke="#141414" stroke-width="0.28">Fe2p</text>
<text x="521.6" y="124.2" font-family='"Liberation Serif", serif' font-weight="bold" font-size="9.17" fill="#141414" text-anchor="start" textLength="10.6" lengthAdjust="spacingAndGlyphs" stroke="#141414" stroke-width="0.28">3/2</text>
<text x="533" y="119.8" font-family='"Liberation Serif", serif' font-weight="bold" font-size="9.37" fill="#141414" text-anchor="start" textLength="10.6" lengthAdjust="spacingAndGlyphs" stroke="#141414" stroke-width="0.28">sat</text>
<text x="34.9" y="554.72" font-family='"Liberation Serif", serif' font-weight="bold" font-size="11.48" fill="#141414" text-anchor="end" textLength="17.1" lengthAdjust="spacingAndGlyphs" stroke="#141414" stroke-width="0.28">1x10</text>
<text x="35.1" y="548.32" font-family='"Liberation Serif", serif' font-weight="bold" font-size="5.8" fill="#141414" text-anchor="start" stroke="#141414" stroke-width="0.28">5</text>
<text x="34.9" y="514.33" font-family='"Liberation Serif", serif' font-weight="bold" font-size="11.48" fill="#141414" text-anchor="end" textLength="17.1" lengthAdjust="spacingAndGlyphs" stroke="#141414" stroke-width="0.28">2x10</text>
<text x="35.1" y="507.93" font-family='"Liberation Serif", serif' font-weight="bold" font-size="5.8" fill="#141414" text-anchor="start" stroke="#141414" stroke-width="0.28">5</text>
<text x="34.9" y="473.95" font-family='"Liberation Serif", serif' font-weight="bold" font-size="11.48" fill="#141414" text-anchor="end" textLength="17.1" lengthAdjust="spacingAndGlyphs" stroke="#141414" stroke-width="0.28">3x10</text>
<text x="35.1" y="467.55" font-family='"Liberation Serif", serif' font-weight="bold" font-size="5.8" fill="#141414" text-anchor="start" stroke="#141414" stroke-width="0.28">5</text>
<text x="34.9" y="433.56" font-family='"Liberation Serif", serif' font-weight="bold" font-size="11.48" fill="#141414" text-anchor="end" textLength="17.1" lengthAdjust="spacingAndGlyphs" stroke="#141414" stroke-width="0.28">4x10</text>
<text x="35.1" y="427.16" font-family='"Liberation Serif", serif' font-weight="bold" font-size="5.8" fill="#141414" text-anchor="start" stroke="#141414" stroke-width="0.28">5</text>
<text x="34.9" y="393.18" font-family='"Liberation Serif", serif' font-weight="bold" font-size="11.48" fill="#141414" text-anchor="end" textLength="17.1" lengthAdjust="spacingAndGlyphs" stroke="#141414" stroke-width="0.28">5x10</text>
<text x="35.1" y="386.78" font-family='"Liberation Serif", serif' font-weight="bold" font-size="5.8" fill="#141414" text-anchor="start" stroke="#141414" stroke-width="0.28">5</text>
<text x="34.9" y="352.79" font-family='"Liberation Serif", serif' font-weight="bold" font-size="11.48" fill="#141414" text-anchor="end" textLength="17.1" lengthAdjust="spacingAndGlyphs" stroke="#141414" stroke-width="0.28">6x10</text>
<text x="35.1" y="346.39" font-family='"Liberation Serif", serif' font-weight="bold" font-size="5.8" fill="#141414" text-anchor="start" stroke="#141414" stroke-width="0.28">5</text>
<text x="36.9" y="594.6" font-family='"Liberation Serif", serif' font-weight="bold" font-size="11.03" fill="#141414" text-anchor="end" textLength="3.3" lengthAdjust="spacingAndGlyphs" stroke="#141414" stroke-width="0.28">0</text>
<text transform="translate(15.7 505.3) scale(0.8 1) rotate(-90)" font-family='"Liberation Serif", serif' font-weight="bold" font-size="15.11" fill="#141414" textLength="83.3" lengthAdjust="spacingAndGlyphs" stroke="#141414" stroke-width="0.28">Intensity(a.u.)</text>
<text x="71.04" y="610.1" font-family='"Liberation Serif", serif' font-weight="bold" font-size="11.78" fill="#141414" text-anchor="middle" textLength="16.9" lengthAdjust="spacingAndGlyphs" stroke="#141414" stroke-width="0.28">1200</text>
<text x="110.7" y="610.1" font-family='"Liberation Serif", serif' font-weight="bold" font-size="11.78" fill="#141414" text-anchor="middle" textLength="16.9" lengthAdjust="spacingAndGlyphs" stroke="#141414" stroke-width="0.28">1000</text>
<text x="150.36" y="610.1" font-family='"Liberation Serif", serif' font-weight="bold" font-size="11.78" fill="#141414" text-anchor="middle" textLength="13.1" lengthAdjust="spacingAndGlyphs" stroke="#141414" stroke-width="0.28">800</text>
<text x="190.02" y="610.1" font-family='"Liberation Serif", serif' font-weight="bold" font-size="11.78" fill="#141414" text-anchor="middle" textLength="13.1" lengthAdjust="spacingAndGlyphs" stroke="#141414" stroke-width="0.28">600</text>
<text x="229.68" y="610.1" font-family='"Liberation Serif", serif' font-weight="bold" font-size="11.78" fill="#141414" text-anchor="middle" textLength="13.1" lengthAdjust="spacingAndGlyphs" stroke="#141414" stroke-width="0.28">400</text>
<text x="269.34" y="610.1" font-family='"Liberation Serif", serif' font-weight="bold" font-size="11.78" fill="#141414" text-anchor="middle" textLength="13.1" lengthAdjust="spacingAndGlyphs" stroke="#141414" stroke-width="0.28">200</text>
<text x="309" y="610.1" font-family='"Liberation Serif", serif' font-weight="bold" font-size="11.78" fill="#141414" text-anchor="middle" textLength="4.3" lengthAdjust="spacingAndGlyphs" stroke="#141414" stroke-width="0.28">0</text>
<text x="128.4" y="622.5" font-family='"Liberation Serif", serif' font-weight="bold" font-size="13.75" fill="#141414" text-anchor="start" textLength="85.1" lengthAdjust="spacingAndGlyphs" stroke="#141414" stroke-width="0.28">Binding energy(ev)</text>
<text x="285.7" y="350.8" font-family='"Liberation Serif", serif' font-weight="bold" font-size="22.9" fill="#141414" text-anchor="start" textLength="24.3" lengthAdjust="spacingAndGlyphs" stroke="#141414" stroke-width="0.55">(c)</text>
<text transform="translate(119.5 392.5) scale(0.8 1) rotate(-90)" font-family='"Liberation Serif", serif' font-weight="bold" font-size="12.65" fill="#e31a1a" textLength="51.8" lengthAdjust="spacingAndGlyphs" stroke="#e31a1a" stroke-width="0.28">O(Auger)</text>
<text transform="translate(157.9 460.2) scale(0.8 1) rotate(-90)" font-family='"Liberation Serif", serif' font-weight="bold" font-size="10.76" fill="#e31a1a" textLength="55" lengthAdjust="spacingAndGlyphs" stroke="#e31a1a" stroke-width="0.28">Fe(Auger)</text>
<text transform="translate(166.7 439.4) scale(0.8 1) rotate(-90)" font-family='"Liberation Serif", serif' font-weight="bold" font-size="9.63" fill="#e31a1a" textLength="26.4" lengthAdjust="spacingAndGlyphs" stroke="#e31a1a" stroke-width="0.28">Fe2p</text>
<text transform="translate(174.5 437.9) scale(0.8 1) rotate(-90)" font-family='"Liberation Serif", serif' font-weight="bold" font-size="9.82" fill="#e31a1a" textLength="24.9" lengthAdjust="spacingAndGlyphs" stroke="#e31a1a" stroke-width="0.28">Fe2p</text>
<text transform="translate(207.8 430) scale(0.8 1) rotate(-90)" font-family='"Liberation Serif", serif' font-weight="bold" font-size="12.08" fill="#e31a1a" textLength="21.1" lengthAdjust="spacingAndGlyphs" stroke="#e31a1a" stroke-width="0.28">O1s</text>
<text transform="translate(200.3 544.6) scale(0.8 1) rotate(-90)" font-family='"Liberation Serif", serif' font-weight="bold" font-size="12.08" fill="#e31a1a" textLength="43.4" lengthAdjust="spacingAndGlyphs" stroke="#e31a1a" stroke-width="0.28">O(Loss)</text>
<text transform="translate(254.6 555.5) scale(0.8 1) rotate(-90)" font-family='"Liberation Serif", serif' font-weight="bold" font-size="11.52" fill="#e31a1a" textLength="19.6" lengthAdjust="spacingAndGlyphs" stroke="#e31a1a" stroke-width="0.28">C1s</text>
<text transform="translate(272.5 568.9) scale(0.8 1) rotate(-90)" font-family='"Liberation Serif", serif' font-weight="bold" font-size="11.71" fill="#e31a1a" textLength="25.2" lengthAdjust="spacingAndGlyphs" stroke="#e31a1a" stroke-width="0.28">Cl2p</text>
<text transform="translate(282 573.9) scale(0.8 1) rotate(-90)" font-family='"Liberation Serif", serif' font-weight="bold" font-size="11.71" fill="#e31a1a" textLength="20.7" lengthAdjust="spacingAndGlyphs" stroke="#e31a1a" stroke-width="0.28">Si2s</text>
<text transform="translate(291.5 567.2) scale(0.8 1) rotate(-90)" font-family='"Liberation Serif", serif' font-weight="bold" font-size="11.71" fill="#e31a1a" textLength="23.5" lengthAdjust="spacingAndGlyphs" stroke="#e31a1a" stroke-width="0.28">Si2p</text>
<text transform="translate(303.7 554.9) scale(0.8 1) rotate(-90)" font-family='"Liberation Serif", serif' font-weight="bold" font-size="11.52" fill="#e31a1a" textLength="40.8" lengthAdjust="spacingAndGlyphs" stroke="#e31a1a" stroke-width="0.28">Fe3p3/2</text>
<text x="363.9" y="545.83" font-family='"Liberation Serif", serif' font-weight="bold" font-size="9.06" fill="#141414" text-anchor="end" textLength="12.3" lengthAdjust="spacingAndGlyphs" stroke="#141414" stroke-width="0.28">10k</text>
<text x="363.9" y="502.67" font-family='"Liberation Serif", serif' font-weight="bold" font-size="9.06" fill="#141414" text-anchor="end" textLength="12.3" lengthAdjust="spacingAndGlyphs" stroke="#141414" stroke-width="0.28">20k</text>
<text x="363.9" y="459.5" font-family='"Liberation Serif", serif' font-weight="bold" font-size="9.06" fill="#141414" text-anchor="end" textLength="12.3" lengthAdjust="spacingAndGlyphs" stroke="#141414" stroke-width="0.28">30k</text>
<text x="363.9" y="416.33" font-family='"Liberation Serif", serif' font-weight="bold" font-size="9.06" fill="#141414" text-anchor="end" textLength="12.3" lengthAdjust="spacingAndGlyphs" stroke="#141414" stroke-width="0.28">40k</text>
<text x="363.9" y="373.17" font-family='"Liberation Serif", serif' font-weight="bold" font-size="9.06" fill="#141414" text-anchor="end" textLength="12.3" lengthAdjust="spacingAndGlyphs" stroke="#141414" stroke-width="0.28">50k</text>
<text x="363.9" y="330" font-family='"Liberation Serif", serif' font-weight="bold" font-size="9.06" fill="#141414" text-anchor="end" textLength="12.3" lengthAdjust="spacingAndGlyphs" stroke="#141414" stroke-width="0.28">60k</text>
<text x="364.1" y="589.6" font-family='"Liberation Serif", serif' font-weight="bold" font-size="8.91" fill="#141414" text-anchor="end" textLength="4.1" lengthAdjust="spacingAndGlyphs" stroke="#141414" stroke-width="0.28">0</text>
<text transform="translate(344.6 487.6) scale(0.8 1) rotate(-90)" font-family='"Liberation Serif", serif' font-weight="bold" font-size="12.27" fill="#141414" textLength="77.8" lengthAdjust="spacingAndGlyphs" stroke="#141414" stroke-width="0.28">Intensity(CPS)</text>
<text x="366.7" y="597.8" font-family='"Liberation Serif", serif' font-weight="bold" font-size="8.46" fill="#141414" text-anchor="middle" textLength="11.3" lengthAdjust="spacingAndGlyphs" stroke="#141414" stroke-width="0.28">740</text>
<text x="403.34" y="597.8" font-family='"Liberation Serif", serif' font-weight="bold" font-size="8.46" fill="#141414" text-anchor="middle" textLength="11.3" lengthAdjust="spacingAndGlyphs" stroke="#141414" stroke-width="0.28">735</text>
<text x="439.99" y="597.8" font-family='"Liberation Serif", serif' font-weight="bold" font-size="8.46" fill="#141414" text-anchor="middle" textLength="11.3" lengthAdjust="spacingAndGlyphs" stroke="#141414" stroke-width="0.28">730</text>
<text x="476.63" y="597.8" font-family='"Liberation Serif", serif' font-weight="bold" font-size="8.46" fill="#141414" text-anchor="middle" textLength="11.3" lengthAdjust="spacingAndGlyphs" stroke="#141414" stroke-width="0.28">725</text>
<text x="513.28" y="597.8" font-family='"Liberation Serif", serif' font-weight="bold" font-size="8.46" fill="#141414" text-anchor="middle" textLength="11.3" lengthAdjust="spacingAndGlyphs" stroke="#141414" stroke-width="0.28">720</text>
<text x="549.92" y="597.8" font-family='"Liberation Serif", serif' font-weight="bold" font-size="8.46" fill="#141414" text-anchor="middle" textLength="11.3" lengthAdjust="spacingAndGlyphs" stroke="#141414" stroke-width="0.28">715</text>
<text x="586.57" y="597.8" font-family='"Liberation Serif", serif' font-weight="bold" font-size="8.46" fill="#141414" text-anchor="middle" textLength="11.3" lengthAdjust="spacingAndGlyphs" stroke="#141414" stroke-width="0.28">710</text>
<text x="623.21" y="597.8" font-family='"Liberation Serif", serif' font-weight="bold" font-size="8.46" fill="#141414" text-anchor="middle" textLength="11.3" lengthAdjust="spacingAndGlyphs" stroke="#141414" stroke-width="0.28">705</text>
<text x="462.6" y="612.5" font-family='"Liberation Serif", serif' font-weight="bold" font-size="11.48" fill="#141414" text-anchor="start" textLength="86.9" lengthAdjust="spacingAndGlyphs" stroke="#141414" stroke-width="0.28">Binding Energy (eV)</text>
<text x="377.2" y="350.6" font-family='"Liberation Sans", sans-serif' font-weight="bold" font-size="11.73" fill="#141414" text-anchor="start" textLength="24.7" lengthAdjust="spacingAndGlyphs" stroke="#141414" stroke-width="0.28">Fe 2p</text>
<text x="628" y="355.3" font-family='"Liberation Serif", serif' font-weight="bold" font-size="23.4" fill="#141414" text-anchor="start" textLength="27.4" lengthAdjust="spacingAndGlyphs" stroke="#141414" stroke-width="0.55">(d)</text>
<text x="398.7" y="414.6" font-family='"Liberation Serif", serif' font-weight="bold" font-size="10.88" fill="#141414" text-anchor="start" textLength="18.5" lengthAdjust="spacingAndGlyphs" stroke="#141414" stroke-width="0.28">Fe2p</text>
<text x="417.7" y="418.4" font-family='"Liberation Serif", serif' font-weight="bold" font-size="9.32" fill="#141414" text-anchor="start" textLength="10.8" lengthAdjust="spacingAndGlyphs" stroke="#141414" stroke-width="0.28">1/2</text>
<text x="431.6" y="414.6" font-family='"Liberation Serif", serif' font-weight="bold" font-size="9.79" fill="#141414" text-anchor="start" textLength="10.1" lengthAdjust="spacingAndGlyphs" stroke="#141414" stroke-width="0.28">sat</text>
<text x="464.3" y="379.7" font-family='"Liberation Serif", serif' font-weight="bold" font-size="11.48" fill="#141414" text-anchor="start" textLength="19.1" lengthAdjust="spacingAndGlyphs" stroke="#141414" stroke-width="0.28">Fe2p</text>
<text x="484" y="383.6" font-family='"Liberation Serif", serif' font-weight="bold" font-size="9.91" fill="#141414" text-anchor="start" textLength="10.7" lengthAdjust="spacingAndGlyphs" stroke="#141414" stroke-width="0.28">1/2</text>
<text x="568.2" y="358.2" font-family='"Liberation Serif", serif' font-weight="bold" font-size="11.03" fill="#141414" text-anchor="start" textLength="18.2" lengthAdjust="spacingAndGlyphs" stroke="#141414" stroke-width="0.28">Fe2p</text>
<text x="587" y="362.5" font-family='"Liberation Serif", serif' font-weight="bold" font-size="10.06" fill="#141414" text-anchor="start" textLength="11.3" lengthAdjust="spacingAndGlyphs" stroke="#141414" stroke-width="0.28">3/2</text>
<text x="502.2" y="428.1" font-family='"Liberation Serif", serif' font-weight="bold" font-size="10.88" fill="#141414" text-anchor="start" textLength="18" lengthAdjust="spacingAndGlyphs" stroke="#141414" stroke-width="0.28">Fe2p</text>
<text x="520.7" y="431.8" font-family='"Liberation Serif", serif' font-weight="bold" font-size="8.58" fill="#141414" text-anchor="start" textLength="11.6" lengthAdjust="spacingAndGlyphs" stroke="#141414" stroke-width="0.28">3/2</text>
<text x="534.8" y="427.6" font-family='"Liberation Serif", serif' font-weight="bold" font-size="9.67" fill="#141414" text-anchor="start" textLength="10.4" lengthAdjust="spacingAndGlyphs" stroke="#141414" stroke-width="0.28">sat</text>
</svg>
</body></html>
